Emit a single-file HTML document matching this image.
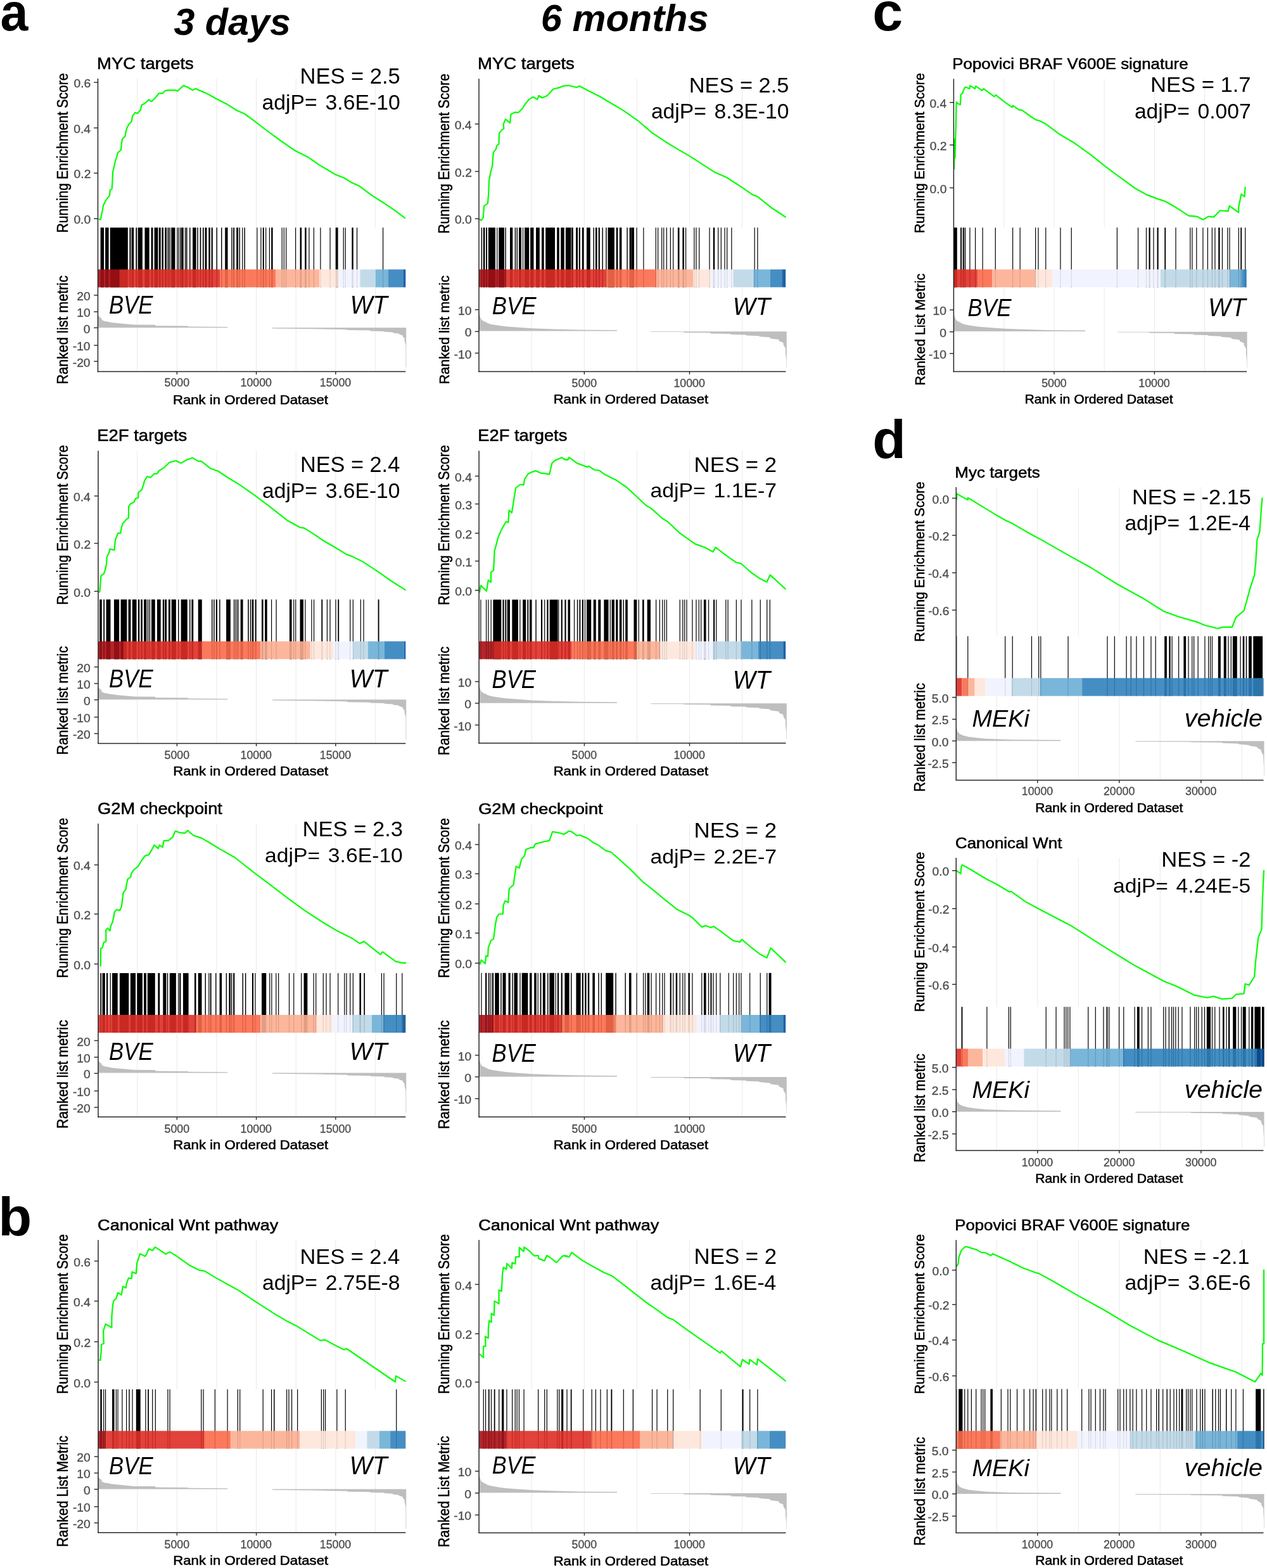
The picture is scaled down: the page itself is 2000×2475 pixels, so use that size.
<!DOCTYPE html>
<html><head><meta charset="utf-8"><title>GSEA figure</title>
<style>html,body{margin:0;padding:0;background:#fff;}svg{display:block;}text{font-family:"Liberation Sans", Arial, sans-serif;}</style>
</head><body>
<svg xmlns="http://www.w3.org/2000/svg" width="2000" height="2475" viewBox="0 0 2000 2475">
<rect width="2000" height="2475" fill="#fff"/>
<line x1="216.72" y1="124.00" x2="216.72" y2="359.20" stroke="#ebebeb" stroke-width="1.1" />
<line x1="216.72" y1="453.50" x2="216.72" y2="586.60" stroke="#ebebeb" stroke-width="1.1" />
<line x1="279.35" y1="124.00" x2="279.35" y2="359.20" stroke="#ebebeb" stroke-width="1.1" />
<line x1="279.35" y1="453.50" x2="279.35" y2="586.60" stroke="#ebebeb" stroke-width="1.1" />
<line x1="341.98" y1="124.00" x2="341.98" y2="359.20" stroke="#ebebeb" stroke-width="1.1" />
<line x1="341.98" y1="453.50" x2="341.98" y2="586.60" stroke="#ebebeb" stroke-width="1.1" />
<line x1="404.60" y1="124.00" x2="404.60" y2="359.20" stroke="#ebebeb" stroke-width="1.1" />
<line x1="404.60" y1="453.50" x2="404.60" y2="586.60" stroke="#ebebeb" stroke-width="1.1" />
<line x1="467.23" y1="124.00" x2="467.23" y2="359.20" stroke="#ebebeb" stroke-width="1.1" />
<line x1="467.23" y1="453.50" x2="467.23" y2="586.60" stroke="#ebebeb" stroke-width="1.1" />
<line x1="529.85" y1="124.00" x2="529.85" y2="359.20" stroke="#ebebeb" stroke-width="1.1" />
<line x1="529.85" y1="453.50" x2="529.85" y2="586.60" stroke="#ebebeb" stroke-width="1.1" />
<line x1="592.48" y1="124.00" x2="592.48" y2="359.20" stroke="#ebebeb" stroke-width="1.1" />
<line x1="592.48" y1="453.50" x2="592.48" y2="586.60" stroke="#ebebeb" stroke-width="1.1" />
<polygon points="154.50,517.30 154.50,497.50 156.50,499.50 160.50,503.00 160.50,505.10 165.00,507.10 172.60,508.30 175.00,508.90 187.00,510.30 212.00,512.60 245.00,512.80 245.30,514.30 297.00,514.60 297.00,515.50 359.20,515.90 359.20,517.30" fill="#bebebe"/>
<polygon points="430.00,517.30 430.00,518.40 496.00,519.30 540.00,520.10 548.10,520.30 548.10,521.10 584.20,521.60 584.20,522.50 606.80,523.00 606.80,523.80 620.30,524.50 620.30,525.50 629.70,526.50 629.70,527.50 635.80,529.50 635.80,531.20 638.50,534.00 638.50,537.30 640.50,545.00 640.50,579.80 641.20,579.80 641.20,517.30" fill="#bebebe"/>
<path d="M158.64 359.20H164.11V453.50H158.64ZM166.13 359.20H171.60V453.50H166.13ZM173.76 359.20H201.84V453.50H173.76ZM204.44 359.20H206.45V453.50H204.44ZM207.60 359.20H211.20V453.50H207.60ZM214.37 359.20H216.24V453.50H214.37ZM217.68 359.20H224.88V453.50H217.68ZM228.49 359.20H235.69V453.50H228.49ZM238.57 359.20H241.45V453.50H238.57ZM243.61 359.20H249.37V453.50H243.61ZM250.81 359.20H253.69V453.50H250.81ZM255.41 359.20H258.01V453.50H255.41ZM260.17 359.20H263.05V453.50H260.17ZM264.49 359.20H266.36V453.50H264.49ZM267.37 359.20H268.81V453.50H267.37ZM270.25 359.20H276.44V453.50H270.25ZM279.22 359.20H280.42V453.50H279.22ZM281.31 359.20H282.51V453.50H281.31ZM283.93 359.20H285.37V453.50H283.93ZM286.09 359.20H289.69V453.50H286.09ZM291.85 359.20H293.29V453.50H291.85ZM294.01 359.20H295.45V453.50H294.01ZM299.05 359.20H300.49V453.50H299.05ZM304.09 359.20H309.56V453.50H304.09ZM311.29 359.20H312.73V453.50H311.29ZM315.61 359.20H317.34V453.50H315.61ZM319.93 359.20H321.66V453.50H319.93ZM323.53 359.20H326.41V453.50H323.53ZM329.29 359.20H331.74V453.50H329.29ZM333.61 359.20H335.77V453.50H333.61ZM341.53 359.20H342.97V453.50H341.53ZM349.02 359.20H350.46V453.50H349.02ZM355.21 359.20H359.53V453.50H355.21ZM365.29 359.20H366.73V453.50H365.29ZM368.17 359.20H370.05V453.50H368.17ZM373.21 359.20H376.09V453.50H373.21ZM377.53 359.20H378.97V453.50H377.53ZM382.12 359.20H383.32V453.50H382.12ZM385.46 359.20H386.90V453.50H385.46ZM405.24 359.20H406.44V453.50H405.24ZM411.29 359.20H412.49V453.50H411.29ZM414.77 359.20H416.79V453.50H414.77ZM419.07 359.20H420.27V453.50H419.07ZM424.83 359.20H426.03V453.50H424.83ZM428.16 359.20H430.61V453.50H428.16ZM444.56 359.20H445.76V453.50H444.56ZM447.72 359.20H448.92V453.50H447.72ZM451.04 359.20H452.24V453.50H451.04ZM466.01 359.20H467.21V453.50H466.01ZM473.53 359.20H476.12V453.50H473.53ZM481.16 359.20H483.61V453.50H481.16ZM487.33 359.20H488.53V453.50H487.33ZM494.81 359.20H496.01V453.50H494.81ZM505.33 359.20H506.53V453.50H505.33ZM520.45 359.20H521.65V453.50H520.45ZM529.69 359.20H533.58V453.50H529.69ZM541.62 359.20H542.82V453.50H541.62ZM544.64 359.20H545.84V453.50H544.64ZM555.32 359.20H557.77V453.50H555.32ZM562.93 359.20H564.13V453.50H562.93ZM603.97 359.20H605.17V453.50H603.97Z" fill="#000"/>
<rect x="154.50" y="425.30" width="33.80" height="28.20" fill="#A50F15" fill-opacity="0.9"/>
<rect x="188.30" y="425.30" width="159.30" height="28.20" fill="#DE2D26" fill-opacity="0.9"/>
<rect x="347.60" y="425.30" width="87.90" height="28.20" fill="#FB6A4A" fill-opacity="0.9"/>
<rect x="435.50" y="425.30" width="68.50" height="28.20" fill="#FCAE91" fill-opacity="0.9"/>
<rect x="504.00" y="425.30" width="30.30" height="28.20" fill="#FEE5D9" fill-opacity="0.9"/>
<rect x="534.30" y="425.30" width="34.20" height="28.20" fill="#EFF3FF" fill-opacity="0.9"/>
<rect x="568.50" y="425.30" width="24.20" height="28.20" fill="#BDD7E7" fill-opacity="0.9"/>
<rect x="592.70" y="425.30" width="20.30" height="28.20" fill="#6BAED6" fill-opacity="0.9"/>
<rect x="613.00" y="425.30" width="23.30" height="28.20" fill="#3182BD" fill-opacity="0.9"/>
<rect x="636.30" y="425.30" width="4.00" height="28.20" fill="#08519C" fill-opacity="0.9"/>
<polyline points="155.76,345.37 158.64,346.81 161.52,333.13 162.96,324.49 167.28,315.85 173.04,308.65 173.76,300.01 176.64,298.57 177.36,287.05 178.08,271.21 180.24,262.57 181.68,255.37 184.56,246.73 186.00,240.97 191.04,236.65 191.76,226.57 193.20,219.37 197.52,215.05 198.96,206.41 200.40,202.09 203.28,196.32 207.60,192.00 209.04,183.36 213.36,177.60 216.96,179.04 222.00,173.28 223.44,166.08 228.49,163.20 234.97,157.44 239.29,160.32 245.05,154.56 250.81,147.36 256.57,147.36 260.89,143.04 265.21,142.32 276.73,142.32 280.33,143.76 283.93,140.16 289.69,135.12 295.45,137.28 304.09,142.32 308.41,139.87 315.61,143.04 324.25,146.64 330.01,149.52 341.53,156.00 357.37,163.92 373.21,174.00 386.18,179.76 400.00,189.84 418.72,204.25 443.20,222.25 466.24,238.09 486.41,248.17 505.13,261.13 529.61,275.53 544.01,281.29 555.53,288.49 567.05,293.53 587.21,308.65 604.49,319.45 624.65,333.13 639.78,344.65" fill="none" stroke="#00ff00" stroke-width="2.2" stroke-linejoin="round"/>
<line x1="154.50" y1="124.00" x2="154.50" y2="587.30" stroke="#262626" stroke-width="1.5" />
<line x1="153.80" y1="586.60" x2="640.30" y2="586.60" stroke="#262626" stroke-width="1.5" />
<line x1="148.20" y1="130.00" x2="154.50" y2="130.00" stroke="#262626" stroke-width="1.4" />
<line x1="148.20" y1="201.90" x2="154.50" y2="201.90" stroke="#262626" stroke-width="1.4" />
<line x1="148.20" y1="273.30" x2="154.50" y2="273.30" stroke="#262626" stroke-width="1.4" />
<line x1="148.20" y1="345.20" x2="154.50" y2="345.20" stroke="#262626" stroke-width="1.4" />
<line x1="148.20" y1="466.00" x2="154.50" y2="466.00" stroke="#262626" stroke-width="1.4" />
<line x1="148.20" y1="492.10" x2="154.50" y2="492.10" stroke="#262626" stroke-width="1.4" />
<line x1="148.20" y1="517.40" x2="154.50" y2="517.40" stroke="#262626" stroke-width="1.4" />
<line x1="148.20" y1="545.10" x2="154.50" y2="545.10" stroke="#262626" stroke-width="1.4" />
<line x1="148.20" y1="570.40" x2="154.50" y2="570.40" stroke="#262626" stroke-width="1.4" />
<line x1="279.35" y1="586.60" x2="279.35" y2="591.10" stroke="#262626" stroke-width="1.4" />
<line x1="404.60" y1="586.60" x2="404.60" y2="591.10" stroke="#262626" stroke-width="1.4" />
<line x1="529.85" y1="586.60" x2="529.85" y2="591.10" stroke="#262626" stroke-width="1.4" />
<line x1="839.35" y1="124.30" x2="839.35" y2="359.20" stroke="#ebebeb" stroke-width="1.1" />
<line x1="839.35" y1="453.40" x2="839.35" y2="586.50" stroke="#ebebeb" stroke-width="1.1" />
<line x1="922.40" y1="124.30" x2="922.40" y2="359.20" stroke="#ebebeb" stroke-width="1.1" />
<line x1="922.40" y1="453.40" x2="922.40" y2="586.50" stroke="#ebebeb" stroke-width="1.1" />
<line x1="1005.45" y1="124.30" x2="1005.45" y2="359.20" stroke="#ebebeb" stroke-width="1.1" />
<line x1="1005.45" y1="453.40" x2="1005.45" y2="586.50" stroke="#ebebeb" stroke-width="1.1" />
<line x1="1088.50" y1="124.30" x2="1088.50" y2="359.20" stroke="#ebebeb" stroke-width="1.1" />
<line x1="1088.50" y1="453.40" x2="1088.50" y2="586.50" stroke="#ebebeb" stroke-width="1.1" />
<line x1="1171.55" y1="124.30" x2="1171.55" y2="359.20" stroke="#ebebeb" stroke-width="1.1" />
<line x1="1171.55" y1="453.40" x2="1171.55" y2="586.50" stroke="#ebebeb" stroke-width="1.1" />
<polygon points="756.00,522.60 756.00,493.00 757.00,497.00 759.30,503.60 762.00,506.30 766.60,508.20 770.00,510.20 775.90,511.90 786.90,513.70 798.00,515.20 814.60,516.50 840.40,518.30 873.50,519.60 919.60,520.70 974.00,521.10 974.00,522.60" fill="#bebebe"/>
<polygon points="1027.40,523.20 1027.40,524.10 1079.20,524.10 1079.20,525.00 1121.60,525.20 1121.60,526.40 1153.50,526.90 1153.50,528.10 1177.70,528.50 1177.70,529.50 1198.50,530.20 1198.50,531.20 1215.70,532.50 1215.70,534.20 1229.60,536.00 1229.60,538.20 1236.50,541.00 1236.50,543.70 1240.00,550.00 1240.00,557.50 1241.30,570.00 1241.30,580.00 1241.80,580.00 1241.80,523.20" fill="#bebebe"/>
<path d="M759.64 359.20H761.08V453.40H759.64ZM762.81 359.20H765.40V453.40H762.81ZM767.13 359.20H769.00V453.40H767.13ZM770.87 359.20H781.96V453.40H770.87ZM784.10 359.20H785.30V453.40H784.10ZM787.29 359.20H795.93V453.40H787.29ZM797.37 359.20H798.81V453.40H797.37ZM805.00 359.20H809.32V453.40H805.00ZM812.64 359.20H814.08V453.40H812.64ZM815.52 359.20H816.96V453.40H815.52ZM818.97 359.20H823.00V453.40H818.97ZM824.92 359.20H826.12V453.40H824.92ZM828.04 359.20H835.25V453.40H828.04ZM837.12 359.20H842.45V453.40H837.12ZM846.05 359.20H851.81V453.40H846.05ZM854.97 359.20H858.72V453.40H854.97ZM861.17 359.20H876.00V453.40H861.17ZM879.17 359.20H882.77V453.40H879.17ZM885.22 359.20H890.69V453.40H885.22ZM892.85 359.20H901.49V453.40H892.85ZM902.21 359.20H904.80V453.40H902.21ZM909.12 359.20H912.00V453.40H909.12ZM913.73 359.20H915.89V453.40H913.73ZM918.77 359.20H921.65V453.40H918.77ZM925.97 359.20H931.73V453.40H925.97ZM936.48 359.20H937.92V453.40H936.48ZM939.94 359.20H942.53V453.40H939.94ZM944.69 359.20H946.85V453.40H944.69ZM950.45 359.20H951.89V453.40H950.45ZM956.21 359.20H957.65V453.40H956.21ZM959.53 359.20H969.89V453.40H959.53ZM972.77 359.20H975.37V453.40H972.77ZM977.81 359.20H981.41V453.40H977.81ZM989.34 359.20H990.78V453.40H989.34ZM993.66 359.20H995.10V453.40H993.66ZM996.54 359.20H997.98V453.40H996.54ZM999.42 359.20H1001.00V453.40H999.42ZM995.12 359.20H996.32V453.40H995.12ZM997.59 359.20H999.61V453.40H997.59ZM1004.48 359.20H1005.68V453.40H1004.48ZM1015.28 359.20H1016.48V453.40H1015.28ZM1034.72 359.20H1035.92V453.40H1034.72ZM1038.03 359.20H1039.23V453.40H1038.03ZM1044.08 359.20H1045.28V453.40H1044.08ZM1047.11 359.20H1048.31V453.40H1047.11ZM1051.72 359.20H1052.92V453.40H1051.72ZM1057.76 359.20H1058.96V453.40H1057.76ZM1062.08 359.20H1063.28V453.40H1062.08ZM1069.88 359.20H1072.48V453.40H1069.88ZM1077.37 359.20H1079.97V453.40H1077.37ZM1081.96 359.20H1083.16V453.40H1081.96ZM1095.21 359.20H1096.41V453.40H1095.21ZM1098.37 359.20H1099.57V453.40H1098.37ZM1103.13 359.20H1104.33V453.40H1103.13ZM1119.40 359.20H1120.60V453.40H1119.40ZM1125.76 359.20H1128.21V453.40H1125.76ZM1133.08 359.20H1134.28V453.40H1133.08ZM1137.69 359.20H1138.89V453.40H1137.69ZM1143.45 359.20H1144.65V453.40H1143.45ZM1147.05 359.20H1148.25V453.40H1147.05ZM1154.25 359.20H1155.45V453.40H1154.25ZM1190.54 359.20H1191.74V453.40H1190.54ZM1195.29 359.20H1196.49V453.40H1195.29Z" fill="#000"/>
<rect x="756.00" y="425.30" width="42.80" height="28.10" fill="#A50F15" fill-opacity="0.9"/>
<rect x="798.80" y="425.30" width="157.70" height="28.10" fill="#DE2D26" fill-opacity="0.9"/>
<rect x="956.50" y="425.30" width="79.70" height="28.10" fill="#FB6A4A" fill-opacity="0.9"/>
<rect x="1036.20" y="425.30" width="57.90" height="28.10" fill="#FCAE91" fill-opacity="0.9"/>
<rect x="1094.10" y="425.30" width="27.50" height="28.10" fill="#FEE5D9" fill-opacity="0.9"/>
<rect x="1121.60" y="425.30" width="35.90" height="28.10" fill="#EFF3FF" fill-opacity="0.9"/>
<rect x="1157.50" y="425.30" width="31.90" height="28.10" fill="#BDD7E7" fill-opacity="0.9"/>
<rect x="1189.40" y="425.30" width="26.60" height="28.10" fill="#6BAED6" fill-opacity="0.9"/>
<rect x="1216.00" y="425.30" width="18.30" height="28.10" fill="#3182BD" fill-opacity="0.9"/>
<rect x="1234.30" y="425.30" width="5.90" height="28.10" fill="#08519C" fill-opacity="0.9"/>
<polyline points="756.90,345.90 759.51,347.86 762.77,343.30 764.07,325.05 769.94,321.14 771.24,305.50 771.89,285.94 774.50,271.61 777.11,262.48 778.02,249.45 779.06,240.32 782.97,235.11 784.28,229.90 787.53,227.29 787.92,210.34 792.10,205.13 795.35,203.18 794.70,196.01 797.96,188.19 805.13,194.05 806.43,180.36 812.95,177.11 818.16,177.76 824.68,171.24 828.59,164.72 835.11,156.90 841.63,152.99 848.14,156.90 850.75,151.04 855.96,154.30 850.00,151.11 855.76,154.56 863.82,151.11 873.04,140.74 882.26,138.43 889.17,135.67 898.39,134.98 909.91,137.97 914.52,135.67 928.34,143.04 946.77,152.26 962.90,161.94 983.64,174.15 1006.68,190.28 1029.72,209.86 1050.46,223.69 1071.20,236.36 1087.33,245.58 1103.46,255.94 1126.50,270.92 1147.24,280.14 1154.15,284.75 1170.28,295.12 1188.71,307.79 1195.62,310.09 1218.66,328.53 1240.55,343.04" fill="none" stroke="#00ff00" stroke-width="2.2" stroke-linejoin="round"/>
<line x1="756.00" y1="124.30" x2="756.00" y2="587.20" stroke="#262626" stroke-width="1.5" />
<line x1="755.30" y1="586.50" x2="1240.50" y2="586.50" stroke="#262626" stroke-width="1.5" />
<line x1="749.70" y1="195.70" x2="756.00" y2="195.70" stroke="#262626" stroke-width="1.4" />
<line x1="749.70" y1="270.60" x2="756.00" y2="270.60" stroke="#262626" stroke-width="1.4" />
<line x1="749.70" y1="345.30" x2="756.00" y2="345.30" stroke="#262626" stroke-width="1.4" />
<line x1="749.70" y1="488.80" x2="756.00" y2="488.80" stroke="#262626" stroke-width="1.4" />
<line x1="749.70" y1="523.30" x2="756.00" y2="523.30" stroke="#262626" stroke-width="1.4" />
<line x1="749.70" y1="557.40" x2="756.00" y2="557.40" stroke="#262626" stroke-width="1.4" />
<line x1="922.40" y1="586.50" x2="922.40" y2="591.00" stroke="#262626" stroke-width="1.4" />
<line x1="1088.50" y1="586.50" x2="1088.50" y2="591.00" stroke="#262626" stroke-width="1.4" />
<line x1="216.72" y1="711.40" x2="216.72" y2="946.30" stroke="#ebebeb" stroke-width="1.1" />
<line x1="216.72" y1="1040.40" x2="216.72" y2="1173.40" stroke="#ebebeb" stroke-width="1.1" />
<line x1="279.35" y1="711.40" x2="279.35" y2="946.30" stroke="#ebebeb" stroke-width="1.1" />
<line x1="279.35" y1="1040.40" x2="279.35" y2="1173.40" stroke="#ebebeb" stroke-width="1.1" />
<line x1="341.98" y1="711.40" x2="341.98" y2="946.30" stroke="#ebebeb" stroke-width="1.1" />
<line x1="341.98" y1="1040.40" x2="341.98" y2="1173.40" stroke="#ebebeb" stroke-width="1.1" />
<line x1="404.60" y1="711.40" x2="404.60" y2="946.30" stroke="#ebebeb" stroke-width="1.1" />
<line x1="404.60" y1="1040.40" x2="404.60" y2="1173.40" stroke="#ebebeb" stroke-width="1.1" />
<line x1="467.23" y1="711.40" x2="467.23" y2="946.30" stroke="#ebebeb" stroke-width="1.1" />
<line x1="467.23" y1="1040.40" x2="467.23" y2="1173.40" stroke="#ebebeb" stroke-width="1.1" />
<line x1="529.85" y1="711.40" x2="529.85" y2="946.30" stroke="#ebebeb" stroke-width="1.1" />
<line x1="529.85" y1="1040.40" x2="529.85" y2="1173.40" stroke="#ebebeb" stroke-width="1.1" />
<line x1="592.48" y1="711.40" x2="592.48" y2="946.30" stroke="#ebebeb" stroke-width="1.1" />
<line x1="592.48" y1="1040.40" x2="592.48" y2="1173.40" stroke="#ebebeb" stroke-width="1.1" />
<polygon points="154.50,1104.30 154.50,1084.35 156.50,1086.36 160.50,1089.89 160.50,1092.01 165.00,1094.02 172.60,1095.23 175.00,1095.84 187.00,1097.25 212.00,1099.56 245.00,1099.77 245.30,1101.28 297.00,1101.58 297.00,1102.49 359.20,1102.89 359.20,1104.30" fill="#bebebe"/>
<polygon points="430.00,1104.30 430.00,1105.41 496.00,1106.32 540.00,1107.12 548.10,1107.32 548.10,1108.13 584.20,1108.63 584.20,1109.54 606.80,1110.04 606.80,1110.85 620.30,1111.56 620.30,1112.56 629.70,1113.57 629.70,1114.58 635.80,1116.59 635.80,1118.31 638.50,1121.13 638.50,1124.45 640.50,1132.21 640.50,1167.28 641.20,1167.28 641.20,1104.30" fill="#bebebe"/>
<path d="M157.20 946.30H160.80V1040.40H157.20ZM163.25 946.30H165.12V1040.40H163.25ZM167.57 946.30H174.48V1040.40H167.57ZM179.95 946.30H188.16V1040.40H179.95ZM190.61 946.30H200.40V1040.40H190.61ZM202.56 946.30H206.45V1040.40H202.56ZM208.76 946.30H215.52V1040.40H208.76ZM217.97 946.30H220.28V1040.40H217.97ZM222.29 946.30H224.88V1040.40H222.29ZM227.04 946.30H231.37V1040.40H227.04ZM232.81 946.30H234.25V1040.40H232.81ZM235.69 946.30H237.13V1040.40H235.69ZM239.00 946.30H244.76V1040.40H239.00ZM247.93 946.30H253.69V1040.40H247.93ZM256.85 946.30H259.16V1040.40H256.85ZM260.17 946.30H263.05V1040.40H260.17ZM265.93 946.30H268.81V1040.40H265.93ZM270.68 946.30H277.88V1040.40H270.68ZM281.05 946.30H282.49V1040.40H281.05ZM285.66 946.30H295.74V1040.40H285.66ZM299.05 946.30H300.49V1040.40H299.05ZM302.36 946.30H305.24V1040.40H302.36ZM312.73 946.30H318.78V1040.40H312.73ZM334.04 946.30H335.48V1040.40H334.04ZM337.21 946.30H338.65V1040.40H337.21ZM340.81 946.30H342.97V1040.40H340.81ZM346.14 946.30H347.58V1040.40H346.14ZM357.09 946.30H363.85V1040.40H357.09ZM368.89 946.30H370.33V1040.40H368.89ZM371.77 946.30H373.21V1040.40H371.77ZM374.65 946.30H376.38V1040.40H374.65ZM379.69 946.30H383.58V1040.40H379.69ZM391.22 946.30H392.66V1040.40H391.22ZM394.82 946.30H396.26V1040.40H394.82ZM397.70 946.30H399.14V1040.40H397.70ZM391.56 946.30H392.76V1040.40H391.56ZM394.87 946.30H396.07V1040.40H394.87ZM399.19 946.30H400.39V1040.40H399.19ZM402.67 946.30H404.69V1040.40H402.67ZM413.04 946.30H415.63V1040.40H413.04ZM418.08 946.30H421.68V1040.40H418.08ZM427.99 946.30H429.19V1040.40H427.99ZM435.48 946.30H436.68V1040.40H435.48ZM456.96 946.30H460.56V1040.40H456.96ZM463.13 946.30H464.33V1040.40H463.13ZM466.16 946.30H467.36V1040.40H466.16ZM473.53 946.30H479.00V1040.40H473.53ZM481.28 946.30H482.48V1040.40H481.28ZM491.36 946.30H492.56V1040.40H491.36ZM494.96 946.30H496.16V1040.40H494.96ZM507.37 946.30H509.24V1040.40H507.37ZM515.84 946.30H517.04V1040.40H515.84ZM520.45 946.30H521.65V1040.40H520.45ZM529.38 946.30H530.58V1040.40H529.38ZM533.29 946.30H535.16V1040.40H533.29ZM552.13 946.30H553.33V1040.40H552.13ZM556.74 946.30H557.94V1040.40H556.74ZM568.69 946.30H569.89V1040.40H568.69ZM573.44 946.30H574.64V1040.40H573.44ZM596.65 946.30H598.53V1040.40H596.65Z" fill="#000"/>
<rect x="155.00" y="1012.30" width="39.40" height="28.10" fill="#A50F15" fill-opacity="0.9"/>
<rect x="194.40" y="1012.30" width="124.10" height="28.10" fill="#DE2D26" fill-opacity="0.9"/>
<rect x="318.50" y="1012.30" width="92.80" height="28.10" fill="#FB6A4A" fill-opacity="0.9"/>
<rect x="411.30" y="1012.30" width="78.50" height="28.10" fill="#FCAE91" fill-opacity="0.9"/>
<rect x="489.80" y="1012.30" width="36.30" height="28.10" fill="#FEE5D9" fill-opacity="0.9"/>
<rect x="526.10" y="1012.30" width="30.90" height="28.10" fill="#EFF3FF" fill-opacity="0.9"/>
<rect x="557.00" y="1012.30" width="23.80" height="28.10" fill="#BDD7E7" fill-opacity="0.9"/>
<rect x="580.80" y="1012.30" width="25.90" height="28.10" fill="#6BAED6" fill-opacity="0.9"/>
<rect x="606.70" y="1012.30" width="31.00" height="28.10" fill="#3182BD" fill-opacity="0.9"/>
<rect x="637.70" y="1012.30" width="2.60" height="28.10" fill="#08519C" fill-opacity="0.9"/>
<polyline points="156.11,935.10 157.50,933.70 158.90,914.15 159.60,908.57 163.79,905.78 165.88,900.19 167.98,890.41 168.67,879.24 172.17,872.26 173.56,866.68 180.54,868.07 181.94,852.71 186.13,841.54 190.32,841.54 191.72,833.16 193.81,826.18 200.09,819.20 202.89,817.80 203.17,799.65 205.68,795.46 211.27,792.66 214.06,787.08 218.25,785.68 218.25,777.30 223.83,773.11 226.63,764.73 228.02,759.15 232.21,752.17 237.80,753.56 243.39,747.98 247.57,747.98 251.76,742.39 250.00,743.78 259.22,738.02 267.28,729.95 277.65,727.19 285.71,731.11 294.93,725.81 304.15,722.58 312.21,727.65 317.97,728.11 331.80,739.17 344.47,743.78 358.29,753.00 379.03,765.67 402.07,781.80 425.12,799.08 452.76,820.97 473.50,832.49 480.41,833.64 494.24,842.40 510.37,853.23 528.80,864.06 547.24,875.12 556.45,878.57 572.58,886.64 595.62,901.61 618.66,917.74 640.55,931.57" fill="none" stroke="#00ff00" stroke-width="2.2" stroke-linejoin="round"/>
<line x1="155.00" y1="711.40" x2="155.00" y2="1174.10" stroke="#262626" stroke-width="1.5" />
<line x1="154.30" y1="1173.40" x2="640.30" y2="1173.40" stroke="#262626" stroke-width="1.5" />
<line x1="148.70" y1="782.90" x2="155.00" y2="782.90" stroke="#262626" stroke-width="1.4" />
<line x1="148.70" y1="857.60" x2="155.00" y2="857.60" stroke="#262626" stroke-width="1.4" />
<line x1="148.70" y1="933.40" x2="155.00" y2="933.40" stroke="#262626" stroke-width="1.4" />
<line x1="148.70" y1="1052.80" x2="155.00" y2="1052.80" stroke="#262626" stroke-width="1.4" />
<line x1="148.70" y1="1078.90" x2="155.00" y2="1078.90" stroke="#262626" stroke-width="1.4" />
<line x1="148.70" y1="1104.60" x2="155.00" y2="1104.60" stroke="#262626" stroke-width="1.4" />
<line x1="148.70" y1="1132.00" x2="155.00" y2="1132.00" stroke="#262626" stroke-width="1.4" />
<line x1="148.70" y1="1157.90" x2="155.00" y2="1157.90" stroke="#262626" stroke-width="1.4" />
<line x1="279.35" y1="1173.40" x2="279.35" y2="1177.90" stroke="#262626" stroke-width="1.4" />
<line x1="404.60" y1="1173.40" x2="404.60" y2="1177.90" stroke="#262626" stroke-width="1.4" />
<line x1="529.85" y1="1173.40" x2="529.85" y2="1177.90" stroke="#262626" stroke-width="1.4" />
<line x1="839.35" y1="711.40" x2="839.35" y2="946.40" stroke="#ebebeb" stroke-width="1.1" />
<line x1="839.35" y1="1040.40" x2="839.35" y2="1173.10" stroke="#ebebeb" stroke-width="1.1" />
<line x1="922.40" y1="711.40" x2="922.40" y2="946.40" stroke="#ebebeb" stroke-width="1.1" />
<line x1="922.40" y1="1040.40" x2="922.40" y2="1173.10" stroke="#ebebeb" stroke-width="1.1" />
<line x1="1005.45" y1="711.40" x2="1005.45" y2="946.40" stroke="#ebebeb" stroke-width="1.1" />
<line x1="1005.45" y1="1040.40" x2="1005.45" y2="1173.10" stroke="#ebebeb" stroke-width="1.1" />
<line x1="1088.50" y1="711.40" x2="1088.50" y2="946.40" stroke="#ebebeb" stroke-width="1.1" />
<line x1="1088.50" y1="1040.40" x2="1088.50" y2="1173.10" stroke="#ebebeb" stroke-width="1.1" />
<line x1="1171.55" y1="711.40" x2="1171.55" y2="946.40" stroke="#ebebeb" stroke-width="1.1" />
<line x1="1171.55" y1="1040.40" x2="1171.55" y2="1173.10" stroke="#ebebeb" stroke-width="1.1" />
<polygon points="756.00,1109.70 756.00,1080.10 757.00,1084.10 759.30,1090.70 762.00,1093.40 766.60,1095.30 770.00,1097.30 775.90,1099.00 786.90,1100.80 798.00,1102.30 814.60,1103.60 840.40,1105.40 873.50,1106.70 919.60,1107.80 974.00,1108.20 974.00,1109.70" fill="#bebebe"/>
<polygon points="1027.40,1110.30 1027.40,1111.20 1079.20,1111.20 1079.20,1112.10 1121.60,1112.30 1121.60,1113.50 1153.50,1114.00 1153.50,1115.20 1177.70,1115.60 1177.70,1116.60 1198.50,1117.30 1198.50,1118.30 1215.70,1119.60 1215.70,1121.30 1229.60,1123.10 1229.60,1125.30 1236.50,1128.10 1236.50,1130.80 1240.00,1137.10 1240.00,1144.60 1241.30,1157.10 1241.30,1167.10 1241.80,1167.10 1241.80,1110.30" fill="#bebebe"/>
<path d="M758.32 946.40H759.52V1040.40H758.32ZM766.96 946.40H768.16V1040.40H766.96ZM770.27 946.40H771.47V1040.40H770.27ZM774.59 946.40H775.79V1040.40H774.59ZM778.36 946.40H791.32V1040.40H778.36ZM793.48 946.40H795.64V1040.40H793.48ZM797.37 946.40H799.24V1040.40H797.37ZM800.68 946.40H805.00V1040.40H800.68ZM808.32 946.40H817.96V1040.40H808.32ZM820.24 946.40H821.44V1040.40H820.24ZM825.16 946.40H830.21V1040.40H825.16ZM832.37 946.40H834.24V1040.40H832.37ZM835.97 946.40H839.57V1040.40H835.97ZM845.33 946.40H846.77V1040.40H845.33ZM853.97 946.40H856.13V1040.40H853.97ZM859.13 946.40H860.33V1040.40H859.13ZM863.33 946.40H865.49V1040.40H863.33ZM867.65 946.40H880.61V1040.40H867.65ZM881.23 946.40H882.43V1040.40H881.23ZM885.65 946.40H887.81V1040.40H885.65ZM891.41 946.40H893.57V1040.40H891.41ZM896.45 946.40H900.05V1040.40H896.45ZM905.93 946.40H907.13V1040.40H905.93ZM910.85 946.40H912.29V1040.40H910.85ZM914.45 946.40H916.32V1040.40H914.45ZM918.77 946.40H920.93V1040.40H918.77ZM922.85 946.40H924.05V1040.40H922.85ZM925.97 946.40H933.17V1040.40H925.97ZM936.77 946.40H940.80V1040.40H936.77ZM944.26 946.40H948.29V1040.40H944.26ZM953.33 946.40H960.53V1040.40H953.33ZM962.67 946.40H963.87V1040.40H962.67ZM965.57 946.40H969.89V1040.40H965.57ZM972.05 946.40H975.37V1040.40H972.05ZM977.81 946.40H981.41V1040.40H977.81ZM983.57 946.40H985.01V1040.40H983.57ZM987.18 946.40H990.78V1040.40H987.18ZM1000.47 946.40H1005.37V1040.40H1000.47ZM1007.65 946.40H1008.85V1040.40H1007.65ZM1014.01 946.40H1016.60V1040.40H1014.01ZM1021.64 946.40H1026.97V1040.40H1021.64ZM1035.01 946.40H1036.21V1040.40H1035.01ZM1040.77 946.40H1041.97V1040.40H1040.77ZM1045.09 946.40H1046.29V1040.40H1045.09ZM1048.40 946.40H1049.60V1040.40H1048.40ZM1051.72 946.40H1052.92V1040.40H1051.72ZM1072.60 946.40H1073.80V1040.40H1072.60ZM1077.21 946.40H1078.41V1040.40H1077.21ZM1080.09 946.40H1081.29V1040.40H1080.09ZM1083.40 946.40H1084.60V1040.40H1083.40ZM1092.33 946.40H1093.53V1040.40H1092.33ZM1098.37 946.40H1099.57V1040.40H1098.37ZM1102.69 946.40H1103.89V1040.40H1102.69ZM1106.01 946.40H1107.21V1040.40H1106.01ZM1110.93 946.40H1114.53V1040.40H1110.93ZM1117.96 946.40H1119.16V1040.40H1117.96ZM1126.05 946.40H1128.21V1040.40H1126.05ZM1130.20 946.40H1131.40V1040.40H1130.20ZM1145.18 946.40H1146.38V1040.40H1145.18ZM1148.49 946.40H1149.69V1040.40H1148.49ZM1161.74 946.40H1162.94V1040.40H1161.74ZM1169.37 946.40H1170.57V1040.40H1169.37ZM1186.22 946.40H1187.42V1040.40H1186.22ZM1199.61 946.40H1200.81V1040.40H1199.61ZM1210.13 946.40H1211.33V1040.40H1210.13ZM1214.73 946.40H1215.93V1040.40H1214.73Z" fill="#000"/>
<rect x="756.10" y="1012.30" width="23.00" height="28.10" fill="#A50F15" fill-opacity="0.9"/>
<rect x="779.10" y="1012.30" width="123.60" height="28.10" fill="#DE2D26" fill-opacity="0.9"/>
<rect x="902.70" y="1012.30" width="101.90" height="28.10" fill="#FB6A4A" fill-opacity="0.9"/>
<rect x="1004.60" y="1012.30" width="36.80" height="28.10" fill="#FCAE91" fill-opacity="0.9"/>
<rect x="1041.40" y="1012.30" width="55.80" height="28.10" fill="#FEE5D9" fill-opacity="0.9"/>
<rect x="1097.20" y="1012.30" width="28.10" height="28.10" fill="#EFF3FF" fill-opacity="0.9"/>
<rect x="1125.30" y="1012.30" width="45.40" height="28.10" fill="#BDD7E7" fill-opacity="0.9"/>
<rect x="1170.70" y="1012.30" width="25.90" height="28.10" fill="#6BAED6" fill-opacity="0.9"/>
<rect x="1196.60" y="1012.30" width="39.60" height="28.10" fill="#3182BD" fill-opacity="0.9"/>
<rect x="1236.20" y="1012.30" width="4.00" height="28.10" fill="#08519C" fill-opacity="0.9"/>
<polyline points="756.83,935.18 758.92,924.00 768.00,933.08 770.79,915.62 774.99,919.11 774.99,903.05 779.18,900.26 780.57,869.53 783.37,859.75 786.16,848.57 790.35,838.80 793.14,833.21 798.73,823.43 802.22,824.83 803.62,805.27 807.81,809.46 809.91,796.89 812.00,782.92 814.10,770.35 821.08,764.76 826.67,765.46 828.07,756.38 833.65,748.00 839.24,745.21 845.53,743.11 853.21,746.60 860.19,747.30 867.18,748.70 871.37,731.24 875.56,727.05 886.73,722.16 892.32,725.65 890.00,724.89 896.22,725.92 898.30,721.78 910.74,731.11 927.33,737.33 929.40,735.67 937.70,741.48 945.99,742.51 954.29,748.73 972.95,758.07 989.54,769.47 1020.65,798.51 1026.87,801.62 1045.54,818.21 1053.83,823.39 1072.50,841.02 1082.87,848.28 1097.38,858.65 1111.90,863.83 1125.38,871.09 1129.53,863.83 1147.15,877.31 1161.67,887.68 1169.97,889.76 1186.56,904.27 1200.04,913.60 1210.41,918.79 1215.59,907.38 1240.48,930.19" fill="none" stroke="#00ff00" stroke-width="2.2" stroke-linejoin="round"/>
<line x1="756.10" y1="711.40" x2="756.10" y2="1173.80" stroke="#262626" stroke-width="1.5" />
<line x1="755.40" y1="1173.10" x2="1240.50" y2="1173.10" stroke="#262626" stroke-width="1.5" />
<line x1="749.80" y1="751.50" x2="756.10" y2="751.50" stroke="#262626" stroke-width="1.4" />
<line x1="749.80" y1="795.50" x2="756.10" y2="795.50" stroke="#262626" stroke-width="1.4" />
<line x1="749.80" y1="841.60" x2="756.10" y2="841.60" stroke="#262626" stroke-width="1.4" />
<line x1="749.80" y1="885.60" x2="756.10" y2="885.60" stroke="#262626" stroke-width="1.4" />
<line x1="749.80" y1="931.70" x2="756.10" y2="931.70" stroke="#262626" stroke-width="1.4" />
<line x1="749.80" y1="1075.80" x2="756.10" y2="1075.80" stroke="#262626" stroke-width="1.4" />
<line x1="749.80" y1="1110.00" x2="756.10" y2="1110.00" stroke="#262626" stroke-width="1.4" />
<line x1="749.80" y1="1144.40" x2="756.10" y2="1144.40" stroke="#262626" stroke-width="1.4" />
<line x1="922.40" y1="1173.10" x2="922.40" y2="1177.60" stroke="#262626" stroke-width="1.4" />
<line x1="1088.50" y1="1173.10" x2="1088.50" y2="1177.60" stroke="#262626" stroke-width="1.4" />
<line x1="216.72" y1="1300.00" x2="216.72" y2="1536.00" stroke="#ebebeb" stroke-width="1.1" />
<line x1="216.72" y1="1630.10" x2="216.72" y2="1763.10" stroke="#ebebeb" stroke-width="1.1" />
<line x1="279.35" y1="1300.00" x2="279.35" y2="1536.00" stroke="#ebebeb" stroke-width="1.1" />
<line x1="279.35" y1="1630.10" x2="279.35" y2="1763.10" stroke="#ebebeb" stroke-width="1.1" />
<line x1="341.98" y1="1300.00" x2="341.98" y2="1536.00" stroke="#ebebeb" stroke-width="1.1" />
<line x1="341.98" y1="1630.10" x2="341.98" y2="1763.10" stroke="#ebebeb" stroke-width="1.1" />
<line x1="404.60" y1="1300.00" x2="404.60" y2="1536.00" stroke="#ebebeb" stroke-width="1.1" />
<line x1="404.60" y1="1630.10" x2="404.60" y2="1763.10" stroke="#ebebeb" stroke-width="1.1" />
<line x1="467.23" y1="1300.00" x2="467.23" y2="1536.00" stroke="#ebebeb" stroke-width="1.1" />
<line x1="467.23" y1="1630.10" x2="467.23" y2="1763.10" stroke="#ebebeb" stroke-width="1.1" />
<line x1="529.85" y1="1300.00" x2="529.85" y2="1536.00" stroke="#ebebeb" stroke-width="1.1" />
<line x1="529.85" y1="1630.10" x2="529.85" y2="1763.10" stroke="#ebebeb" stroke-width="1.1" />
<line x1="592.48" y1="1300.00" x2="592.48" y2="1536.00" stroke="#ebebeb" stroke-width="1.1" />
<line x1="592.48" y1="1630.10" x2="592.48" y2="1763.10" stroke="#ebebeb" stroke-width="1.1" />
<polygon points="154.50,1693.60 154.50,1673.65 156.50,1675.66 160.50,1679.19 160.50,1681.31 165.00,1683.32 172.60,1684.53 175.00,1685.14 187.00,1686.55 212.00,1688.86 245.00,1689.07 245.30,1690.58 297.00,1690.88 297.00,1691.79 359.20,1692.19 359.20,1693.60" fill="#bebebe"/>
<polygon points="430.00,1693.60 430.00,1694.71 496.00,1695.62 540.00,1696.42 548.10,1696.62 548.10,1697.43 584.20,1697.93 584.20,1698.84 606.80,1699.34 606.80,1700.15 620.30,1700.86 620.30,1701.86 629.70,1702.87 629.70,1703.88 635.80,1705.89 635.80,1707.61 638.50,1710.43 638.50,1713.75 640.50,1721.51 640.50,1756.58 641.20,1756.58 641.20,1693.60" fill="#bebebe"/>
<path d="M158.35 1536.00H160.08V1630.10H158.35ZM161.52 1536.00H165.84V1630.10H161.52ZM168.00 1536.00H170.16V1630.10H168.00ZM173.67 1536.00H174.87V1630.10H173.67ZM177.07 1536.00H185.71V1630.10H177.07ZM188.88 1536.00H203.28V1630.10H188.88ZM205.88 1536.00H214.08V1630.10H205.88ZM216.24 1536.00H224.88V1630.10H216.24ZM227.04 1536.00H230.93V1630.10H227.04ZM232.81 1536.00H244.76V1630.10H232.81ZM249.37 1536.00H252.25V1630.10H249.37ZM257.29 1536.00H262.33V1630.10H257.29ZM263.77 1536.00H265.21V1630.10H263.77ZM267.80 1536.00H277.88V1630.10H267.80ZM281.02 1536.00H282.22V1630.10H281.02ZM283.21 1536.00H285.37V1630.10H283.21ZM288.97 1536.00H297.61V1630.10H288.97ZM306.97 1536.00H309.56V1630.10H306.97ZM312.73 1536.00H318.49V1630.10H312.73ZM323.53 1536.00H324.97V1630.10H323.53ZM329.20 1536.00H330.40V1630.10H329.20ZM331.74 1536.00H333.61V1630.10H331.74ZM340.09 1536.00H341.53V1630.10H340.09ZM346.57 1536.00H350.17V1630.10H346.57ZM356.65 1536.00H358.09V1630.10H356.65ZM361.41 1536.00H363.85V1630.10H361.41ZM364.86 1536.00H366.30V1630.10H364.86ZM368.17 1536.00H370.33V1630.10H368.17ZM382.57 1536.00H384.01V1630.10H382.57ZM386.90 1536.00H388.34V1630.10H386.90ZM398.42 1536.00H400.00V1630.10H398.42ZM397.92 1536.00H400.08V1630.10H397.92ZM402.36 1536.00H403.56V1630.10H402.36ZM413.04 1536.00H420.24V1630.10H413.04ZM425.11 1536.00H426.31V1630.10H425.11ZM428.28 1536.00H429.48V1630.10H428.28ZM435.19 1536.00H436.39V1630.10H435.19ZM439.08 1536.00H440.28V1630.10H439.08ZM455.93 1536.00H457.13V1630.10H455.93ZM463.13 1536.00H464.33V1630.10H463.13ZM475.09 1536.00H476.29V1630.10H475.09ZM479.57 1536.00H485.33V1630.10H479.57ZM494.53 1536.00H495.73V1630.10H494.53ZM498.13 1536.00H499.33V1630.10H498.13ZM509.65 1536.00H510.85V1630.10H509.65ZM514.40 1536.00H515.60V1630.10H514.40ZM520.45 1536.00H521.65V1630.10H520.45ZM533.12 1536.00H534.32V1630.10H533.12ZM543.20 1536.00H544.40V1630.10H543.20ZM546.37 1536.00H547.57V1630.10H546.37ZM552.13 1536.00H553.33V1630.10H552.13ZM556.74 1536.00H557.94V1630.10H556.74ZM567.42 1536.00H570.01V1630.10H567.42ZM574.33 1536.00H576.06V1630.10H574.33ZM601.81 1536.00H603.01V1630.10H601.81ZM605.41 1536.00H606.61V1630.10H605.41ZM625.14 1536.00H626.34V1630.10H625.14ZM634.22 1536.00H635.42V1630.10H634.22Z" fill="#000"/>
<rect x="155.00" y="1602.00" width="154.60" height="28.10" fill="#DE2D26" fill-opacity="0.9"/>
<rect x="309.60" y="1602.00" width="101.70" height="28.10" fill="#FB6A4A" fill-opacity="0.9"/>
<rect x="411.30" y="1602.00" width="88.10" height="28.10" fill="#FCAE91" fill-opacity="0.9"/>
<rect x="499.40" y="1602.00" width="25.20" height="28.10" fill="#FEE5D9" fill-opacity="0.9"/>
<rect x="524.60" y="1602.00" width="31.70" height="28.10" fill="#EFF3FF" fill-opacity="0.9"/>
<rect x="556.30" y="1602.00" width="30.70" height="28.10" fill="#BDD7E7" fill-opacity="0.9"/>
<rect x="587.00" y="1602.00" width="18.30" height="28.10" fill="#6BAED6" fill-opacity="0.9"/>
<rect x="605.30" y="1602.00" width="30.20" height="28.10" fill="#3182BD" fill-opacity="0.9"/>
<rect x="635.50" y="1602.00" width="4.80" height="28.10" fill="#08519C" fill-opacity="0.9"/>
<polyline points="157.51,1523.74 158.91,1524.44 158.91,1497.21 161.70,1495.81 163.80,1487.43 167.29,1486.03 167.29,1467.88 170.08,1465.08 173.58,1469.27 174.97,1460.89 177.77,1455.31 179.86,1445.53 180.56,1439.94 184.05,1435.75 188.94,1437.15 191.73,1431.56 193.13,1420.39 194.53,1409.22 198.72,1403.63 199.41,1398.04 201.51,1387.57 206.40,1384.08 207.09,1379.19 211.28,1372.91 218.27,1367.32 223.85,1357.54 229.44,1350.56 235.03,1349.16 240.61,1339.39 243.41,1333.80 249.69,1339.39 251.79,1333.80 256.68,1337.29 258.77,1326.82 265.75,1326.82 272.74,1321.23 276.57,1311.89 283.13,1314.08 291.89,1315.18 296.27,1310.80 305.03,1318.46 318.16,1322.84 331.30,1330.50 346.62,1339.91 370.70,1353.49 401.35,1377.57 427.62,1397.27 456.08,1419.16 480.16,1436.67 508.62,1455.28 530.51,1468.42 556.78,1481.55 567.72,1489.21 574.29,1485.93 600.56,1506.73 603.84,1502.35 624.64,1517.67 634.49,1519.86 641.06,1519.86" fill="none" stroke="#00ff00" stroke-width="2.2" stroke-linejoin="round"/>
<line x1="155.00" y1="1300.00" x2="155.00" y2="1763.80" stroke="#262626" stroke-width="1.5" />
<line x1="154.30" y1="1763.10" x2="640.30" y2="1763.10" stroke="#262626" stroke-width="1.5" />
<line x1="148.70" y1="1365.20" x2="155.00" y2="1365.20" stroke="#262626" stroke-width="1.4" />
<line x1="148.70" y1="1442.70" x2="155.00" y2="1442.70" stroke="#262626" stroke-width="1.4" />
<line x1="148.70" y1="1521.60" x2="155.00" y2="1521.60" stroke="#262626" stroke-width="1.4" />
<line x1="148.70" y1="1642.50" x2="155.00" y2="1642.50" stroke="#262626" stroke-width="1.4" />
<line x1="148.70" y1="1668.70" x2="155.00" y2="1668.70" stroke="#262626" stroke-width="1.4" />
<line x1="148.70" y1="1694.30" x2="155.00" y2="1694.30" stroke="#262626" stroke-width="1.4" />
<line x1="148.70" y1="1722.00" x2="155.00" y2="1722.00" stroke="#262626" stroke-width="1.4" />
<line x1="148.70" y1="1747.90" x2="155.00" y2="1747.90" stroke="#262626" stroke-width="1.4" />
<line x1="279.35" y1="1763.10" x2="279.35" y2="1767.60" stroke="#262626" stroke-width="1.4" />
<line x1="404.60" y1="1763.10" x2="404.60" y2="1767.60" stroke="#262626" stroke-width="1.4" />
<line x1="529.85" y1="1763.10" x2="529.85" y2="1767.60" stroke="#262626" stroke-width="1.4" />
<line x1="839.35" y1="1300.00" x2="839.35" y2="1535.70" stroke="#ebebeb" stroke-width="1.1" />
<line x1="839.35" y1="1630.10" x2="839.35" y2="1763.00" stroke="#ebebeb" stroke-width="1.1" />
<line x1="922.40" y1="1300.00" x2="922.40" y2="1535.70" stroke="#ebebeb" stroke-width="1.1" />
<line x1="922.40" y1="1630.10" x2="922.40" y2="1763.00" stroke="#ebebeb" stroke-width="1.1" />
<line x1="1005.45" y1="1300.00" x2="1005.45" y2="1535.70" stroke="#ebebeb" stroke-width="1.1" />
<line x1="1005.45" y1="1630.10" x2="1005.45" y2="1763.00" stroke="#ebebeb" stroke-width="1.1" />
<line x1="1088.50" y1="1300.00" x2="1088.50" y2="1535.70" stroke="#ebebeb" stroke-width="1.1" />
<line x1="1088.50" y1="1630.10" x2="1088.50" y2="1763.00" stroke="#ebebeb" stroke-width="1.1" />
<line x1="1171.55" y1="1300.00" x2="1171.55" y2="1535.70" stroke="#ebebeb" stroke-width="1.1" />
<line x1="1171.55" y1="1630.10" x2="1171.55" y2="1763.00" stroke="#ebebeb" stroke-width="1.1" />
<polygon points="756.00,1699.50 756.00,1669.90 757.00,1673.90 759.30,1680.50 762.00,1683.20 766.60,1685.10 770.00,1687.10 775.90,1688.80 786.90,1690.60 798.00,1692.10 814.60,1693.40 840.40,1695.20 873.50,1696.50 919.60,1697.60 974.00,1698.00 974.00,1699.50" fill="#bebebe"/>
<polygon points="1027.40,1700.10 1027.40,1701.00 1079.20,1701.00 1079.20,1701.90 1121.60,1702.10 1121.60,1703.30 1153.50,1703.80 1153.50,1705.00 1177.70,1705.40 1177.70,1706.40 1198.50,1707.10 1198.50,1708.10 1215.70,1709.40 1215.70,1711.10 1229.60,1712.90 1229.60,1715.10 1236.50,1717.90 1236.50,1720.60 1240.00,1726.90 1240.00,1734.40 1241.30,1746.90 1241.30,1756.90 1241.80,1756.90 1241.80,1700.10" fill="#bebebe"/>
<path d="M759.33 1535.70H760.53V1630.10H759.33ZM766.12 1535.70H768.28V1630.10H766.12ZM770.87 1535.70H772.60V1630.10H770.87ZM774.16 1535.70H775.36V1630.10H774.16ZM776.92 1535.70H779.08V1630.10H776.92ZM781.24 1535.70H787.72V1630.10H781.24ZM790.17 1535.70H791.61V1630.10H790.17ZM793.48 1535.70H798.52V1630.10H793.48ZM802.56 1535.70H805.72V1630.10H802.56ZM808.32 1535.70H809.76V1630.10H808.32ZM811.48 1535.70H816.96V1630.10H811.48ZM820.39 1535.70H821.59V1630.10H820.39ZM823.72 1535.70H833.37V1630.10H823.72ZM835.97 1535.70H839.57V1630.10H835.97ZM843.17 1535.70H846.77V1630.10H843.17ZM848.61 1535.70H849.81V1630.10H848.61ZM852.53 1535.70H854.40V1630.10H852.53ZM856.85 1535.70H860.74V1630.10H856.85ZM864.05 1535.70H865.49V1630.10H864.05ZM867.36 1535.70H874.85V1630.10H867.36ZM876.55 1535.70H877.75V1630.10H876.55ZM879.89 1535.70H882.05V1630.10H879.89ZM885.65 1535.70H887.81V1630.10H885.65ZM891.41 1535.70H898.61V1630.10H891.41ZM901.06 1535.70H902.50V1630.10H901.06ZM909.41 1535.70H916.61V1630.10H909.41ZM918.77 1535.70H920.93V1630.10H918.77ZM923.09 1535.70H925.54V1630.10H923.09ZM927.84 1535.70H930.29V1630.10H927.84ZM935.33 1535.70H938.93V1630.10H935.33ZM944.26 1535.70H945.70V1630.10H944.26ZM948.58 1535.70H950.02V1630.10H948.58ZM956.21 1535.70H968.17V1630.10H956.21ZM971.33 1535.70H972.77V1630.10H971.33ZM986.46 1535.70H987.90V1630.10H986.46ZM992.94 1535.70H996.54V1630.10H992.94ZM995.00 1535.70H996.44V1630.10H995.00ZM1004.48 1535.70H1005.68V1630.10H1004.48ZM1014.99 1535.70H1016.19V1630.10H1014.99ZM1018.16 1535.70H1019.36V1630.10H1018.16ZM1021.64 1535.70H1025.24V1630.10H1021.64ZM1027.52 1535.70H1028.72V1630.10H1027.52ZM1035.01 1535.70H1036.21V1630.10H1035.01ZM1040.77 1535.70H1041.97V1630.10H1040.77ZM1045.09 1535.70H1046.29V1630.10H1045.09ZM1048.40 1535.70H1049.60V1630.10H1048.40ZM1057.64 1535.70H1059.80V1630.10H1057.64ZM1062.08 1535.70H1063.28V1630.10H1062.08ZM1066.72 1535.70H1069.16V1630.10H1066.72ZM1072.60 1535.70H1073.80V1630.10H1072.60ZM1077.21 1535.70H1078.41V1630.10H1077.21ZM1080.52 1535.70H1081.72V1630.10H1080.52ZM1086.45 1535.70H1088.89V1630.10H1086.45ZM1092.33 1535.70H1093.53V1630.10H1092.33ZM1107.16 1535.70H1108.36V1630.10H1107.16ZM1110.93 1535.70H1114.53V1630.10H1110.93ZM1117.96 1535.70H1119.16V1630.10H1117.96ZM1121.44 1535.70H1123.46V1630.10H1121.44ZM1125.45 1535.70H1126.65V1630.10H1125.45ZM1130.06 1535.70H1131.26V1630.10H1130.06ZM1136.25 1535.70H1137.45V1630.10H1136.25ZM1149.64 1535.70H1150.84V1630.10H1149.64ZM1157.13 1535.70H1158.33V1630.10H1157.13ZM1161.74 1535.70H1162.94V1630.10H1161.74ZM1166.06 1535.70H1167.26V1630.10H1166.06ZM1169.37 1535.70H1170.57V1630.10H1169.37ZM1183.05 1535.70H1184.25V1630.10H1183.05ZM1199.61 1535.70H1200.81V1630.10H1199.61ZM1210.13 1535.70H1211.33V1630.10H1210.13ZM1213.61 1535.70H1217.49V1630.10H1213.61Z" fill="#000"/>
<rect x="756.10" y="1602.00" width="23.00" height="28.10" fill="#A50F15" fill-opacity="0.9"/>
<rect x="779.10" y="1602.00" width="107.30" height="28.10" fill="#DE2D26" fill-opacity="0.9"/>
<rect x="886.40" y="1602.00" width="84.90" height="28.10" fill="#FB6A4A" fill-opacity="0.9"/>
<rect x="971.30" y="1602.00" width="75.50" height="28.10" fill="#FCAE91" fill-opacity="0.9"/>
<rect x="1046.80" y="1602.00" width="53.00" height="28.10" fill="#FEE5D9" fill-opacity="0.9"/>
<rect x="1099.80" y="1602.00" width="36.30" height="28.10" fill="#EFF3FF" fill-opacity="0.9"/>
<rect x="1136.10" y="1602.00" width="34.60" height="28.10" fill="#BDD7E7" fill-opacity="0.9"/>
<rect x="1170.70" y="1602.00" width="28.10" height="28.10" fill="#6BAED6" fill-opacity="0.9"/>
<rect x="1198.80" y="1602.00" width="37.40" height="28.10" fill="#3182BD" fill-opacity="0.9"/>
<rect x="1236.20" y="1602.00" width="4.00" height="28.10" fill="#08519C" fill-opacity="0.9"/>
<polyline points="757.52,1522.38 759.62,1515.40 765.91,1520.99 767.30,1508.42 770.10,1509.81 770.79,1495.84 774.99,1484.67 779.18,1481.88 781.97,1459.53 784.06,1448.35 787.56,1442.76 793.84,1442.76 794.54,1428.80 797.33,1421.81 802.22,1424.61 803.62,1403.65 805.72,1400.86 810.60,1396.67 812.00,1385.49 814.80,1367.33 819.68,1370.13 823.18,1356.16 828.07,1350.57 830.16,1340.79 837.84,1338.00 842.03,1338.00 844.83,1332.41 851.81,1330.32 860.19,1328.22 867.18,1326.83 872.07,1312.86 881.15,1314.25 890.92,1317.05 890.00,1316.96 898.30,1311.78 902.44,1312.81 910.74,1319.03 914.89,1318.00 927.33,1323.18 935.62,1329.40 943.92,1333.55 956.36,1342.88 964.66,1344.96 993.69,1370.88 1014.43,1391.62 1035.17,1408.21 1047.61,1418.58 1068.35,1435.17 1087.01,1444.50 1093.24,1448.65 1107.75,1463.16 1113.97,1461.09 1122.27,1464.20 1126.42,1462.13 1136.79,1469.39 1157.52,1484.94 1167.89,1487.01 1171.00,1482.87 1184.48,1494.27 1199.00,1505.68 1210.41,1511.90 1216.63,1496.35 1240.48,1519.16" fill="none" stroke="#00ff00" stroke-width="2.2" stroke-linejoin="round"/>
<line x1="756.10" y1="1300.00" x2="756.10" y2="1763.70" stroke="#262626" stroke-width="1.5" />
<line x1="755.40" y1="1763.00" x2="1240.50" y2="1763.00" stroke="#262626" stroke-width="1.5" />
<line x1="749.80" y1="1333.10" x2="756.10" y2="1333.10" stroke="#262626" stroke-width="1.4" />
<line x1="749.80" y1="1379.20" x2="756.10" y2="1379.20" stroke="#262626" stroke-width="1.4" />
<line x1="749.80" y1="1426.70" x2="756.10" y2="1426.70" stroke="#262626" stroke-width="1.4" />
<line x1="749.80" y1="1472.80" x2="756.10" y2="1472.80" stroke="#262626" stroke-width="1.4" />
<line x1="749.80" y1="1520.30" x2="756.10" y2="1520.30" stroke="#262626" stroke-width="1.4" />
<line x1="749.80" y1="1665.60" x2="756.10" y2="1665.60" stroke="#262626" stroke-width="1.4" />
<line x1="749.80" y1="1699.80" x2="756.10" y2="1699.80" stroke="#262626" stroke-width="1.4" />
<line x1="749.80" y1="1734.20" x2="756.10" y2="1734.20" stroke="#262626" stroke-width="1.4" />
<line x1="922.40" y1="1763.00" x2="922.40" y2="1767.50" stroke="#262626" stroke-width="1.4" />
<line x1="1088.50" y1="1763.00" x2="1088.50" y2="1767.50" stroke="#262626" stroke-width="1.4" />
<line x1="216.72" y1="1957.30" x2="216.72" y2="2193.00" stroke="#ebebeb" stroke-width="1.1" />
<line x1="216.72" y1="2286.60" x2="216.72" y2="2419.30" stroke="#ebebeb" stroke-width="1.1" />
<line x1="279.35" y1="1957.30" x2="279.35" y2="2193.00" stroke="#ebebeb" stroke-width="1.1" />
<line x1="279.35" y1="2286.60" x2="279.35" y2="2419.30" stroke="#ebebeb" stroke-width="1.1" />
<line x1="341.98" y1="1957.30" x2="341.98" y2="2193.00" stroke="#ebebeb" stroke-width="1.1" />
<line x1="341.98" y1="2286.60" x2="341.98" y2="2419.30" stroke="#ebebeb" stroke-width="1.1" />
<line x1="404.60" y1="1957.30" x2="404.60" y2="2193.00" stroke="#ebebeb" stroke-width="1.1" />
<line x1="404.60" y1="2286.60" x2="404.60" y2="2419.30" stroke="#ebebeb" stroke-width="1.1" />
<line x1="467.23" y1="1957.30" x2="467.23" y2="2193.00" stroke="#ebebeb" stroke-width="1.1" />
<line x1="467.23" y1="2286.60" x2="467.23" y2="2419.30" stroke="#ebebeb" stroke-width="1.1" />
<line x1="529.85" y1="1957.30" x2="529.85" y2="2193.00" stroke="#ebebeb" stroke-width="1.1" />
<line x1="529.85" y1="2286.60" x2="529.85" y2="2419.30" stroke="#ebebeb" stroke-width="1.1" />
<line x1="592.48" y1="1957.30" x2="592.48" y2="2193.00" stroke="#ebebeb" stroke-width="1.1" />
<line x1="592.48" y1="2286.60" x2="592.48" y2="2419.30" stroke="#ebebeb" stroke-width="1.1" />
<polygon points="154.50,2350.60 154.50,2330.80 156.50,2332.80 160.50,2336.30 160.50,2338.40 165.00,2340.40 172.60,2341.60 175.00,2342.20 187.00,2343.60 212.00,2345.90 245.00,2346.10 245.30,2347.60 297.00,2347.90 297.00,2348.80 359.20,2349.20 359.20,2350.60" fill="#bebebe"/>
<polygon points="430.00,2350.60 430.00,2351.70 496.00,2352.60 540.00,2353.40 548.10,2353.60 548.10,2354.40 584.20,2354.90 584.20,2355.80 606.80,2356.30 606.80,2357.10 620.30,2357.80 620.30,2358.80 629.70,2359.80 629.70,2360.80 635.80,2362.80 635.80,2364.50 638.50,2367.30 638.50,2370.60 640.50,2378.30 640.50,2413.10 641.20,2413.10 641.20,2350.60" fill="#bebebe"/>
<path d="M158.35 2193.00H160.80V2286.60H158.35ZM163.08 2193.00H164.28V2286.60H163.08ZM165.96 2193.00H167.16V2286.60H165.96ZM177.07 2193.00H180.53V2286.60H177.07ZM182.81 2193.00H184.01V2286.60H182.81ZM185.40 2193.00H186.60V2286.60H185.40ZM192.31 2193.00H193.51V2286.60H192.31ZM199.08 2193.00H200.28V2286.60H199.08ZM203.28 2193.00H204.72V2286.60H203.28ZM208.44 2193.00H209.64V2286.60H208.44ZM214.80 2193.00H221.72V2286.60H214.80ZM229.33 2193.00H230.53V2286.60H229.33ZM233.24 2193.00H234.97V2286.60H233.24ZM240.13 2193.00H241.33V2286.60H240.13ZM244.73 2193.00H245.93V2286.60H244.73ZM264.32 2193.00H265.52V2286.60H264.32ZM267.49 2193.00H268.69V2286.60H267.49ZM317.17 2193.00H318.37V2286.60H317.17ZM320.48 2193.00H321.68V2286.60H320.48ZM338.77 2193.00H339.97V2286.60H338.77ZM358.50 2193.00H359.70V2286.60H358.50ZM374.77 2193.00H375.97V2286.60H374.77ZM378.09 2193.00H379.29V2286.60H378.09ZM414.60 2193.00H415.80V2286.60H414.60ZM427.99 2193.00H429.19V2286.60H427.99ZM432.05 2193.00H433.49V2286.60H432.05ZM452.04 2193.00H453.24V2286.60H452.04ZM455.36 2193.00H456.56V2286.60H455.36ZM459.96 2193.00H461.16V2286.60H459.96ZM469.04 2193.00H470.24V2286.60H469.04ZM506.77 2193.00H507.97V2286.60H506.77ZM510.08 2193.00H511.28V2286.60H510.08ZM512.96 2193.00H514.16V2286.60H512.96ZM531.25 2193.00H532.45V2286.60H531.25ZM544.64 2193.00H545.84V2286.60H544.64ZM625.14 2193.00H626.34V2286.60H625.14Z" fill="#000"/>
<rect x="155.00" y="2258.60" width="12.30" height="28.00" fill="#A50F15" fill-opacity="0.9"/>
<rect x="167.30" y="2258.60" width="155.50" height="28.00" fill="#DE2D26" fill-opacity="0.9"/>
<rect x="322.80" y="2258.60" width="41.10" height="28.00" fill="#FB6A4A" fill-opacity="0.9"/>
<rect x="363.90" y="2258.60" width="109.60" height="28.00" fill="#FCAE91" fill-opacity="0.9"/>
<rect x="473.50" y="2258.60" width="87.60" height="28.00" fill="#FEE5D9" fill-opacity="0.9"/>
<rect x="561.10" y="2258.60" width="18.30" height="28.00" fill="#EFF3FF" fill-opacity="0.9"/>
<rect x="579.40" y="2258.60" width="19.40" height="28.00" fill="#BDD7E7" fill-opacity="0.9"/>
<rect x="598.80" y="2258.60" width="17.30" height="28.00" fill="#6BAED6" fill-opacity="0.9"/>
<rect x="616.10" y="2258.60" width="24.20" height="28.00" fill="#3182BD" fill-opacity="0.9"/>
<polyline points="156.13,2146.54 158.22,2147.24 159.62,2134.67 160.32,2122.10 163.81,2120.70 163.11,2101.15 166.60,2089.97 176.38,2095.56 176.38,2078.80 177.78,2062.03 179.18,2053.65 183.37,2049.46 186.16,2040.38 191.75,2043.87 193.84,2030.60 198.73,2032.70 199.43,2027.11 202.92,2017.33 207.81,2018.03 208.51,2007.56 214.80,2010.35 216.19,1993.59 221.08,1978.92 229.46,1983.11 235.05,1971.24 240.64,1974.03 244.83,1968.45 250.41,1971.94 261.59,1979.62 267.88,1976.13 278.35,1982.41 300.00,1997.78 314.89,2004.96 323.18,2006.41 339.77,2016.36 377.10,2037.10 401.99,2053.69 431.02,2072.36 453.83,2085.84 468.35,2093.09 505.68,2115.91 512.94,2114.87 530.56,2124.20 543.01,2130.42 547.15,2128.76 623.89,2181.23 624.92,2171.90 640.48,2180.61" fill="none" stroke="#00ff00" stroke-width="2.2" stroke-linejoin="round"/>
<line x1="155.00" y1="1957.30" x2="155.00" y2="2420.00" stroke="#262626" stroke-width="1.5" />
<line x1="154.30" y1="2419.30" x2="640.30" y2="2419.30" stroke="#262626" stroke-width="1.5" />
<line x1="148.70" y1="1990.50" x2="155.00" y2="1990.50" stroke="#262626" stroke-width="1.4" />
<line x1="148.70" y1="2053.70" x2="155.00" y2="2053.70" stroke="#262626" stroke-width="1.4" />
<line x1="148.70" y1="2117.90" x2="155.00" y2="2117.90" stroke="#262626" stroke-width="1.4" />
<line x1="148.70" y1="2181.50" x2="155.00" y2="2181.50" stroke="#262626" stroke-width="1.4" />
<line x1="148.70" y1="2299.20" x2="155.00" y2="2299.20" stroke="#262626" stroke-width="1.4" />
<line x1="148.70" y1="2325.10" x2="155.00" y2="2325.10" stroke="#262626" stroke-width="1.4" />
<line x1="148.70" y1="2350.70" x2="155.00" y2="2350.70" stroke="#262626" stroke-width="1.4" />
<line x1="148.70" y1="2378.30" x2="155.00" y2="2378.30" stroke="#262626" stroke-width="1.4" />
<line x1="148.70" y1="2403.70" x2="155.00" y2="2403.70" stroke="#262626" stroke-width="1.4" />
<line x1="279.35" y1="2419.30" x2="279.35" y2="2423.80" stroke="#262626" stroke-width="1.4" />
<line x1="404.60" y1="2419.30" x2="404.60" y2="2423.80" stroke="#262626" stroke-width="1.4" />
<line x1="529.85" y1="2419.30" x2="529.85" y2="2423.80" stroke="#262626" stroke-width="1.4" />
<line x1="839.35" y1="1957.30" x2="839.35" y2="2193.00" stroke="#ebebeb" stroke-width="1.1" />
<line x1="839.35" y1="2286.60" x2="839.35" y2="2419.40" stroke="#ebebeb" stroke-width="1.1" />
<line x1="922.40" y1="1957.30" x2="922.40" y2="2193.00" stroke="#ebebeb" stroke-width="1.1" />
<line x1="922.40" y1="2286.60" x2="922.40" y2="2419.40" stroke="#ebebeb" stroke-width="1.1" />
<line x1="1005.45" y1="1957.30" x2="1005.45" y2="2193.00" stroke="#ebebeb" stroke-width="1.1" />
<line x1="1005.45" y1="2286.60" x2="1005.45" y2="2419.40" stroke="#ebebeb" stroke-width="1.1" />
<line x1="1088.50" y1="1957.30" x2="1088.50" y2="2193.00" stroke="#ebebeb" stroke-width="1.1" />
<line x1="1088.50" y1="2286.60" x2="1088.50" y2="2419.40" stroke="#ebebeb" stroke-width="1.1" />
<line x1="1171.55" y1="1957.30" x2="1171.55" y2="2193.00" stroke="#ebebeb" stroke-width="1.1" />
<line x1="1171.55" y1="2286.60" x2="1171.55" y2="2419.40" stroke="#ebebeb" stroke-width="1.1" />
<polygon points="756.00,2356.30 756.00,2326.70 757.00,2330.70 759.30,2337.30 762.00,2340.00 766.60,2341.90 770.00,2343.90 775.90,2345.60 786.90,2347.40 798.00,2348.90 814.60,2350.20 840.40,2352.00 873.50,2353.30 919.60,2354.40 974.00,2354.80 974.00,2356.30" fill="#bebebe"/>
<polygon points="1027.40,2356.90 1027.40,2357.80 1079.20,2357.80 1079.20,2358.70 1121.60,2358.90 1121.60,2360.10 1153.50,2360.60 1153.50,2361.80 1177.70,2362.20 1177.70,2363.20 1198.50,2363.90 1198.50,2364.90 1215.70,2366.20 1215.70,2367.90 1229.60,2369.70 1229.60,2371.90 1236.50,2374.70 1236.50,2377.40 1240.00,2383.70 1240.00,2391.20 1241.30,2403.70 1241.30,2413.70 1241.80,2413.70 1241.80,2356.90" fill="#bebebe"/>
<path d="M762.64 2193.00H763.84V2286.60H762.64ZM765.95 2193.00H767.15V2286.60H765.95ZM770.87 2193.00H772.60V2286.60H770.87ZM774.88 2193.00H776.08V2286.60H774.88ZM779.80 2193.00H781.53V2286.60H779.80ZM787.12 2193.00H788.32V2286.60H787.12ZM792.04 2193.00H795.35V2286.60H792.04ZM799.36 2193.00H800.56V2286.60H799.36ZM808.00 2193.00H809.20V2286.60H808.00ZM812.61 2193.00H813.81V2286.60H812.61ZM815.49 2193.00H816.69V2286.60H815.49ZM818.80 2193.00H820.00V2286.60H818.80ZM826.44 2193.00H827.64V2286.60H826.44ZM849.05 2193.00H850.25V2286.60H849.05ZM859.13 2193.00H860.33V2286.60H859.13ZM862.73 2193.00H863.93V2286.60H862.73ZM879.29 2193.00H880.49V2286.60H879.29ZM882.17 2193.00H883.37V2286.60H882.17ZM886.08 2193.00H889.25V2286.60H886.08ZM894.41 2193.00H895.61V2286.60H894.41ZM900.77 2193.00H902.50V2286.60H900.77ZM920.04 2193.00H921.24V2286.60H920.04ZM933.58 2193.00H934.78V2286.60H933.58ZM939.77 2193.00H940.97V2286.60H939.77ZM947.40 2193.00H948.60V2286.60H947.40ZM957.77 2193.00H958.97V2286.60H957.77ZM964.42 2193.00H966.29V2286.60H964.42ZM983.69 2193.00H984.89V2286.60H983.69ZM998.82 2193.00H1000.02V2286.60H998.82ZM998.72 2193.00H999.92V2286.60H998.72ZM1028.96 2193.00H1030.16V2286.60H1028.96ZM1036.45 2193.00H1037.65V2286.60H1036.45ZM1053.16 2193.00H1054.36V2286.60H1053.16ZM1062.08 2193.00H1063.28V2286.60H1062.08ZM1104.57 2193.00H1105.77V2286.60H1104.57ZM1137.69 2193.00H1138.89V2286.60H1137.69ZM1171.41 2193.00H1173.57V2286.60H1171.41ZM1183.05 2193.00H1184.25V2286.60H1183.05ZM1195.29 2193.00H1196.49V2286.60H1195.29Z" fill="#000"/>
<rect x="756.10" y="2258.60" width="43.10" height="28.00" fill="#A50F15" fill-opacity="0.9"/>
<rect x="799.20" y="2258.60" width="134.40" height="28.00" fill="#DE2D26" fill-opacity="0.9"/>
<rect x="933.60" y="2258.60" width="77.00" height="28.00" fill="#FB6A4A" fill-opacity="0.9"/>
<rect x="1010.60" y="2258.60" width="51.80" height="28.00" fill="#FCAE91" fill-opacity="0.9"/>
<rect x="1062.40" y="2258.60" width="46.10" height="28.00" fill="#FEE5D9" fill-opacity="0.9"/>
<rect x="1108.50" y="2258.60" width="61.50" height="28.00" fill="#EFF3FF" fill-opacity="0.9"/>
<rect x="1170.00" y="2258.60" width="25.20" height="28.00" fill="#BDD7E7" fill-opacity="0.9"/>
<rect x="1195.20" y="2258.60" width="19.40" height="28.00" fill="#6BAED6" fill-opacity="0.9"/>
<rect x="1214.60" y="2258.60" width="25.60" height="28.00" fill="#3182BD" fill-opacity="0.9"/>
<polyline points="757.52,2137.46 763.11,2143.05 763.11,2124.89 766.60,2124.89 765.91,2109.53 770.79,2112.32 770.79,2098.35 772.19,2084.38 775.68,2087.18 775.68,2073.21 779.87,2076.00 780.57,2053.65 787.56,2057.84 787.56,2036.19 791.75,2038.29 793.14,2010.35 794.54,2000.57 799.43,2003.37 800.13,1994.29 807.81,2001.97 808.51,1992.89 813.40,1994.99 814.10,1983.81 819.68,1983.81 819.68,1969.14 826.67,1975.43 827.37,1968.45 835.05,1974.03 843.43,1982.41 849.72,1981.72 850.41,1986.60 859.49,1990.10 862.99,1981.72 867.88,1984.51 878.35,1992.89 888.13,1982.41 895.11,1982.41 890.00,1982.14 898.30,1984.22 902.44,1976.96 919.03,1989.40 933.55,1997.70 952.21,2008.07 966.73,2014.29 993.69,2035.03 1018.58,2054.73 1035.17,2066.13 1053.83,2079.61 1062.13,2082.73 1084.94,2099.32 1105.68,2113.83 1136.79,2135.61 1138.86,2132.50 1168.93,2157.38 1172.04,2145.98 1182.41,2153.24 1183.45,2145.98 1194.85,2154.27 1195.89,2144.94 1240.48,2180.19" fill="none" stroke="#00ff00" stroke-width="2.2" stroke-linejoin="round"/>
<line x1="756.10" y1="1957.30" x2="756.10" y2="2420.10" stroke="#262626" stroke-width="1.5" />
<line x1="755.40" y1="2419.40" x2="1240.50" y2="2419.40" stroke="#262626" stroke-width="1.5" />
<line x1="749.80" y1="2027.40" x2="756.10" y2="2027.40" stroke="#262626" stroke-width="1.4" />
<line x1="749.80" y1="2105.30" x2="756.10" y2="2105.30" stroke="#262626" stroke-width="1.4" />
<line x1="749.80" y1="2181.50" x2="756.10" y2="2181.50" stroke="#262626" stroke-width="1.4" />
<line x1="749.80" y1="2322.20" x2="756.10" y2="2322.20" stroke="#262626" stroke-width="1.4" />
<line x1="749.80" y1="2356.70" x2="756.10" y2="2356.70" stroke="#262626" stroke-width="1.4" />
<line x1="749.80" y1="2391.30" x2="756.10" y2="2391.30" stroke="#262626" stroke-width="1.4" />
<line x1="922.40" y1="2419.40" x2="922.40" y2="2423.90" stroke="#262626" stroke-width="1.4" />
<line x1="1088.50" y1="2419.40" x2="1088.50" y2="2423.90" stroke="#262626" stroke-width="1.4" />
<line x1="1584.80" y1="124.40" x2="1584.80" y2="359.30" stroke="#ebebeb" stroke-width="1.1" />
<line x1="1584.80" y1="453.50" x2="1584.80" y2="586.50" stroke="#ebebeb" stroke-width="1.1" />
<line x1="1664.00" y1="124.40" x2="1664.00" y2="359.30" stroke="#ebebeb" stroke-width="1.1" />
<line x1="1664.00" y1="453.50" x2="1664.00" y2="586.50" stroke="#ebebeb" stroke-width="1.1" />
<line x1="1743.20" y1="124.40" x2="1743.20" y2="359.30" stroke="#ebebeb" stroke-width="1.1" />
<line x1="1743.20" y1="453.50" x2="1743.20" y2="586.50" stroke="#ebebeb" stroke-width="1.1" />
<line x1="1822.40" y1="124.40" x2="1822.40" y2="359.30" stroke="#ebebeb" stroke-width="1.1" />
<line x1="1822.40" y1="453.50" x2="1822.40" y2="586.50" stroke="#ebebeb" stroke-width="1.1" />
<line x1="1901.60" y1="124.40" x2="1901.60" y2="359.30" stroke="#ebebeb" stroke-width="1.1" />
<line x1="1901.60" y1="453.50" x2="1901.60" y2="586.50" stroke="#ebebeb" stroke-width="1.1" />
<polygon points="1505.40,523.10 1505.40,493.50 1506.27,497.50 1508.46,504.10 1511.04,506.80 1515.42,508.70 1518.66,510.70 1524.29,512.40 1534.78,514.20 1545.37,515.70 1561.20,517.00 1585.80,518.80 1617.37,520.10 1661.33,521.20 1713.21,521.60 1713.21,523.10" fill="#bebebe"/>
<polygon points="1764.13,523.70 1764.13,524.60 1813.53,524.60 1813.53,525.50 1853.97,525.70 1853.97,526.90 1884.39,527.40 1884.39,528.60 1907.46,529.00 1907.46,530.00 1927.30,530.70 1927.30,531.70 1943.70,533.00 1943.70,534.70 1956.96,536.50 1956.96,538.70 1963.54,541.50 1963.54,544.20 1966.88,550.50 1966.88,558.00 1968.12,570.50 1968.12,580.50 1968.59,580.50 1968.59,523.70" fill="#bebebe"/>
<path d="M1505.47 359.30H1510.80V453.50H1505.47ZM1516.13 359.30H1518.00V453.50H1516.13ZM1519.56 359.30H1520.76V453.50H1519.56ZM1521.00 359.30H1522.20V453.50H1521.00ZM1523.16 359.30H1524.36V453.50H1523.16ZM1530.36 359.30H1531.56V453.50H1530.36ZM1539.00 359.30H1540.20V453.50H1539.00ZM1550.52 359.30H1551.72V453.50H1550.52ZM1570.68 359.30H1571.88V453.50H1570.68ZM1598.05 359.30H1599.25V453.50H1598.05ZM1609.57 359.30H1610.77V453.50H1609.57ZM1634.05 359.30H1635.25V453.50H1634.05ZM1638.37 359.30H1639.57V453.50H1638.37ZM1650.18 359.30H1651.38V453.50H1650.18ZM1673.36 359.30H1674.56V453.50H1673.36ZM1690.64 359.30H1691.84V453.50H1690.64ZM1762.81 359.30H1764.01V453.50H1762.81ZM1795.93 359.30H1797.13V453.50H1795.93ZM1808.89 359.30H1810.09V453.50H1808.89ZM1813.53 359.30H1815.69V453.50H1813.53ZM1820.41 359.30H1821.61V453.50H1820.41ZM1826.49 359.30H1828.65V453.50H1826.49ZM1838.29 359.30H1840.17V453.50H1838.29ZM1855.41 359.30H1856.61V453.50H1855.41ZM1878.16 359.30H1879.36V453.50H1878.16ZM1881.33 359.30H1882.53V453.50H1881.33ZM1888.24 359.30H1889.44V453.50H1888.24ZM1898.32 359.30H1899.52V453.50H1898.32ZM1905.81 359.30H1907.01V453.50H1905.81ZM1912.72 359.30H1913.92V453.50H1912.72ZM1917.33 359.30H1918.53V453.50H1917.33ZM1923.26 359.30H1925.56V453.50H1923.26ZM1928.85 359.30H1930.05V453.50H1928.85ZM1937.21 359.30H1938.41V453.50H1937.21ZM1940.37 359.30H1941.57V453.50H1940.37ZM1954.77 359.30H1955.97V453.50H1954.77ZM1958.25 359.30H1960.13V453.50H1958.25ZM1965.14 359.30H1966.34V453.50H1965.14Z" fill="#000"/>
<rect x="1505.40" y="425.30" width="37.50" height="28.20" fill="#DE2D26" fill-opacity="0.9"/>
<rect x="1542.90" y="425.30" width="23.30" height="28.20" fill="#FB6A4A" fill-opacity="0.9"/>
<rect x="1566.20" y="425.30" width="68.00" height="28.20" fill="#FCAE91" fill-opacity="0.9"/>
<rect x="1634.20" y="425.30" width="27.10" height="28.20" fill="#FEE5D9" fill-opacity="0.9"/>
<rect x="1661.30" y="425.30" width="170.70" height="28.20" fill="#EFF3FF" fill-opacity="0.9"/>
<rect x="1832.00" y="425.30" width="109.40" height="28.20" fill="#BDD7E7" fill-opacity="0.9"/>
<rect x="1941.40" y="425.30" width="19.00" height="28.20" fill="#6BAED6" fill-opacity="0.9"/>
<rect x="1960.40" y="425.30" width="7.40" height="28.20" fill="#3182BD" fill-opacity="0.9"/>
<polyline points="1506.13,267.18 1506.55,219.68 1507.52,249.02 1508.22,221.08 1508.92,195.94 1509.62,161.02 1512.41,163.81 1515.91,165.21 1516.60,149.84 1519.40,147.05 1520.79,142.86 1523.59,137.27 1530.57,140.06 1531.27,135.18 1538.95,140.06 1540.35,135.87 1550.13,142.86 1552.92,140.06 1569.68,152.64 1571.78,149.84 1585.05,160.32 1597.62,169.40 1599.02,166.60 1608.80,173.59 1612.99,173.59 1628.35,184.76 1634.64,188.95 1640.22,190.35 1650.37,195.40 1671.11,210.95 1693.92,224.43 1722.95,245.17 1743.69,261.76 1764.43,277.31 1791.39,297.01 1810.05,307.38 1826.64,313.60 1839.09,317.75 1855.68,327.08 1876.42,340.56 1888.86,341.60 1899.23,346.79 1907.52,341.60 1915.82,342.64 1926.19,332.27 1938.63,333.31 1940.71,325.01 1955.22,335.38 1955.22,327.08 1959.37,306.35 1964.55,310.49 1965.59,294.94" fill="none" stroke="#00ff00" stroke-width="2.2" stroke-linejoin="round"/>
<line x1="1505.40" y1="124.40" x2="1505.40" y2="587.20" stroke="#262626" stroke-width="1.5" />
<line x1="1504.70" y1="586.50" x2="1968.00" y2="586.50" stroke="#262626" stroke-width="1.5" />
<line x1="1499.10" y1="161.70" x2="1505.40" y2="161.70" stroke="#262626" stroke-width="1.4" />
<line x1="1499.10" y1="228.80" x2="1505.40" y2="228.80" stroke="#262626" stroke-width="1.4" />
<line x1="1499.10" y1="296.50" x2="1505.40" y2="296.50" stroke="#262626" stroke-width="1.4" />
<line x1="1499.10" y1="489.20" x2="1505.40" y2="489.20" stroke="#262626" stroke-width="1.4" />
<line x1="1499.10" y1="523.80" x2="1505.40" y2="523.80" stroke="#262626" stroke-width="1.4" />
<line x1="1499.10" y1="558.00" x2="1505.40" y2="558.00" stroke="#262626" stroke-width="1.4" />
<line x1="1664.00" y1="586.50" x2="1664.00" y2="591.00" stroke="#262626" stroke-width="1.4" />
<line x1="1822.40" y1="586.50" x2="1822.40" y2="591.00" stroke="#262626" stroke-width="1.4" />
<line x1="1573.30" y1="768.90" x2="1573.30" y2="1004.30" stroke="#ebebeb" stroke-width="1.1" />
<line x1="1573.30" y1="1098.60" x2="1573.30" y2="1231.40" stroke="#ebebeb" stroke-width="1.1" />
<line x1="1637.80" y1="768.90" x2="1637.80" y2="1004.30" stroke="#ebebeb" stroke-width="1.1" />
<line x1="1637.80" y1="1098.60" x2="1637.80" y2="1231.40" stroke="#ebebeb" stroke-width="1.1" />
<line x1="1702.30" y1="768.90" x2="1702.30" y2="1004.30" stroke="#ebebeb" stroke-width="1.1" />
<line x1="1702.30" y1="1098.60" x2="1702.30" y2="1231.40" stroke="#ebebeb" stroke-width="1.1" />
<line x1="1766.80" y1="768.90" x2="1766.80" y2="1004.30" stroke="#ebebeb" stroke-width="1.1" />
<line x1="1766.80" y1="1098.60" x2="1766.80" y2="1231.40" stroke="#ebebeb" stroke-width="1.1" />
<line x1="1831.30" y1="768.90" x2="1831.30" y2="1004.30" stroke="#ebebeb" stroke-width="1.1" />
<line x1="1831.30" y1="1098.60" x2="1831.30" y2="1231.40" stroke="#ebebeb" stroke-width="1.1" />
<line x1="1895.80" y1="768.90" x2="1895.80" y2="1004.30" stroke="#ebebeb" stroke-width="1.1" />
<line x1="1895.80" y1="1098.60" x2="1895.80" y2="1231.40" stroke="#ebebeb" stroke-width="1.1" />
<line x1="1960.30" y1="768.90" x2="1960.30" y2="1004.30" stroke="#ebebeb" stroke-width="1.1" />
<line x1="1960.30" y1="1098.60" x2="1960.30" y2="1231.40" stroke="#ebebeb" stroke-width="1.1" />
<polygon points="1509.40,1169.50 1509.40,1147.00 1510.50,1149.50 1511.20,1153.90 1514.70,1158.30 1519.90,1160.80 1528.50,1162.90 1538.90,1164.30 1556.10,1166.00 1595.90,1167.40 1674.50,1168.10 1674.50,1169.50" fill="#bebebe"/>
<polygon points="1792.30,1169.80 1792.30,1170.80 1879.70,1170.90 1879.70,1171.50 1929.70,1172.00 1929.70,1173.10 1955.50,1173.80 1955.50,1174.70 1971.60,1176.00 1971.60,1177.10 1984.50,1179.00 1984.50,1180.30 1991.00,1184.00 1991.00,1186.80 1994.20,1192.00 1994.20,1196.50 1995.00,1210.00 1995.00,1223.90 1995.50,1223.90 1995.50,1169.80" fill="#bebebe"/>
<path d="M1509.19 1004.30H1510.39V1098.60H1509.19ZM1527.19 1004.30H1528.39V1098.60H1527.19ZM1586.09 1004.30H1587.29V1098.60H1586.09ZM1597.61 1004.30H1598.81V1098.60H1597.61ZM1627.86 1004.30H1629.06V1098.60H1627.86ZM1639.09 1004.30H1640.29V1098.60H1639.09ZM1642.26 1004.30H1643.46V1098.60H1642.26ZM1685.46 1004.30H1686.66V1098.60H1685.46ZM1747.38 1004.30H1748.58V1098.60H1747.38ZM1758.76 1004.30H1759.96V1098.60H1758.76ZM1777.48 1004.30H1778.68V1098.60H1777.48ZM1784.68 1004.30H1785.88V1098.60H1784.68ZM1793.32 1004.30H1794.52V1098.60H1793.32ZM1804.84 1004.30H1806.04V1098.60H1804.84ZM1816.36 1004.30H1817.56V1098.60H1816.36ZM1823.56 1004.30H1824.76V1098.60H1823.56ZM1838.13 1004.30H1841.88V1098.60H1838.13ZM1845.33 1004.30H1847.64V1098.60H1845.33ZM1849.49 1004.30H1850.69V1098.60H1849.49ZM1860.00 1004.30H1861.20V1098.60H1860.00ZM1868.38 1004.30H1872.12V1098.60H1868.38ZM1875.41 1004.30H1876.61V1098.60H1875.41ZM1881.17 1004.30H1882.37V1098.60H1881.17ZM1884.05 1004.30H1885.25V1098.60H1884.05ZM1890.53 1004.30H1891.73V1098.60H1890.53ZM1901.33 1004.30H1902.53V1098.60H1901.33ZM1907.09 1004.30H1908.29V1098.60H1907.09ZM1909.97 1004.30H1911.17V1098.60H1909.97ZM1912.85 1004.30H1914.05V1098.60H1912.85ZM1922.81 1004.30H1926.84V1098.60H1922.81ZM1931.74 1004.30H1935.77V1098.60H1931.74ZM1938.34 1004.30H1939.54V1098.60H1938.34ZM1942.66 1004.30H1943.86V1098.60H1942.66ZM1945.85 1004.30H1952.76V1098.60H1945.85ZM1957.49 1004.30H1958.69V1098.60H1957.49ZM1961.69 1004.30H1964.29V1098.60H1961.69ZM1966.73 1004.30H1968.17V1098.60H1966.73ZM1971.05 1004.30H1975.81V1098.60H1971.05ZM1978.25 1004.30H1993.09V1098.60H1978.25Z" fill="#000"/>
<rect x="1509.40" y="1070.30" width="9.00" height="28.30" fill="#DE2D26" fill-opacity="0.9"/>
<rect x="1518.40" y="1070.30" width="9.00" height="28.30" fill="#FB6A4A" fill-opacity="0.9"/>
<rect x="1527.40" y="1070.30" width="11.20" height="28.30" fill="#FCAE91" fill-opacity="0.9"/>
<rect x="1538.60" y="1070.30" width="16.80" height="28.30" fill="#FEE5D9" fill-opacity="0.9"/>
<rect x="1555.40" y="1070.30" width="41.10" height="28.30" fill="#EFF3FF" fill-opacity="0.9"/>
<rect x="1596.50" y="1070.30" width="45.80" height="28.30" fill="#BDD7E7" fill-opacity="0.9"/>
<rect x="1642.30" y="1070.30" width="65.80" height="28.30" fill="#6BAED6" fill-opacity="0.9"/>
<rect x="1708.10" y="1070.30" width="285.30" height="28.30" fill="#3182BD" fill-opacity="0.9"/>
<rect x="1993.40" y="1070.30" width="1.20" height="28.30" fill="#08519C" fill-opacity="0.9"/>
<polyline points="1509.90,789.14 1510.32,779.37 1527.78,789.14 1527.78,785.65 1572.48,812.89 1587.14,821.27 1599.02,826.86 1625.56,842.22 1639.53,849.91 1640.00,849.91 1685.62,875.84 1722.95,896.57 1764.43,922.50 1805.91,945.31 1837.01,965.01 1859.83,973.31 1888.86,981.60 1901.30,986.79 1922.04,991.97 1930.34,989.90 1944.85,989.90 1951.07,974.34 1963.52,963.97 1967.66,949.46 1973.89,926.64 1980.11,907.98 1982.18,889.32 1984.26,851.99 1988.40,839.54 1990.48,810.51 1992.55,785.62" fill="none" stroke="#00ff00" stroke-width="2.2" stroke-linejoin="round"/>
<line x1="1509.30" y1="768.90" x2="1509.30" y2="1232.10" stroke="#262626" stroke-width="1.5" />
<line x1="1508.60" y1="1231.40" x2="1994.50" y2="1231.40" stroke="#262626" stroke-width="1.5" />
<line x1="1503.00" y1="786.40" x2="1509.30" y2="786.40" stroke="#262626" stroke-width="1.4" />
<line x1="1503.00" y1="845.00" x2="1509.30" y2="845.00" stroke="#262626" stroke-width="1.4" />
<line x1="1503.00" y1="904.10" x2="1509.30" y2="904.10" stroke="#262626" stroke-width="1.4" />
<line x1="1503.00" y1="963.00" x2="1509.30" y2="963.00" stroke="#262626" stroke-width="1.4" />
<line x1="1503.00" y1="1100.70" x2="1509.30" y2="1100.70" stroke="#262626" stroke-width="1.4" />
<line x1="1503.00" y1="1135.30" x2="1509.30" y2="1135.30" stroke="#262626" stroke-width="1.4" />
<line x1="1503.00" y1="1169.50" x2="1509.30" y2="1169.50" stroke="#262626" stroke-width="1.4" />
<line x1="1503.00" y1="1203.70" x2="1509.30" y2="1203.70" stroke="#262626" stroke-width="1.4" />
<line x1="1637.80" y1="1231.40" x2="1637.80" y2="1235.90" stroke="#262626" stroke-width="1.4" />
<line x1="1766.80" y1="1231.40" x2="1766.80" y2="1235.90" stroke="#262626" stroke-width="1.4" />
<line x1="1895.80" y1="1231.40" x2="1895.80" y2="1235.90" stroke="#262626" stroke-width="1.4" />
<line x1="1573.30" y1="1354.00" x2="1573.30" y2="1589.30" stroke="#ebebeb" stroke-width="1.1" />
<line x1="1573.30" y1="1683.40" x2="1573.30" y2="1816.10" stroke="#ebebeb" stroke-width="1.1" />
<line x1="1637.80" y1="1354.00" x2="1637.80" y2="1589.30" stroke="#ebebeb" stroke-width="1.1" />
<line x1="1637.80" y1="1683.40" x2="1637.80" y2="1816.10" stroke="#ebebeb" stroke-width="1.1" />
<line x1="1702.30" y1="1354.00" x2="1702.30" y2="1589.30" stroke="#ebebeb" stroke-width="1.1" />
<line x1="1702.30" y1="1683.40" x2="1702.30" y2="1816.10" stroke="#ebebeb" stroke-width="1.1" />
<line x1="1766.80" y1="1354.00" x2="1766.80" y2="1589.30" stroke="#ebebeb" stroke-width="1.1" />
<line x1="1766.80" y1="1683.40" x2="1766.80" y2="1816.10" stroke="#ebebeb" stroke-width="1.1" />
<line x1="1831.30" y1="1354.00" x2="1831.30" y2="1589.30" stroke="#ebebeb" stroke-width="1.1" />
<line x1="1831.30" y1="1683.40" x2="1831.30" y2="1816.10" stroke="#ebebeb" stroke-width="1.1" />
<line x1="1895.80" y1="1354.00" x2="1895.80" y2="1589.30" stroke="#ebebeb" stroke-width="1.1" />
<line x1="1895.80" y1="1683.40" x2="1895.80" y2="1816.10" stroke="#ebebeb" stroke-width="1.1" />
<line x1="1960.30" y1="1354.00" x2="1960.30" y2="1589.30" stroke="#ebebeb" stroke-width="1.1" />
<line x1="1960.30" y1="1683.40" x2="1960.30" y2="1816.10" stroke="#ebebeb" stroke-width="1.1" />
<polygon points="1509.40,1754.70 1509.40,1731.84 1510.50,1734.38 1511.20,1738.85 1514.70,1743.32 1519.90,1745.86 1528.50,1747.99 1538.90,1749.42 1556.10,1751.14 1595.90,1752.57 1674.50,1753.28 1674.50,1754.70" fill="#bebebe"/>
<polygon points="1792.30,1755.00 1792.30,1756.02 1879.70,1756.12 1879.70,1756.73 1929.70,1757.24 1929.70,1758.36 1955.50,1759.07 1955.50,1759.98 1971.60,1761.30 1971.60,1762.42 1984.50,1764.35 1984.50,1765.67 1991.00,1769.43 1991.00,1772.28 1994.20,1777.56 1994.20,1782.13 1995.00,1795.85 1995.00,1809.97 1995.50,1809.97 1995.50,1755.00" fill="#bebebe"/>
<path d="M1517.57 1589.30H1519.44V1683.40H1517.57ZM1557.29 1589.30H1558.49V1683.40H1557.29ZM1591.85 1589.30H1593.05V1683.40H1591.85ZM1594.73 1589.30H1595.93V1683.40H1594.73ZM1650.61 1589.30H1651.81V1683.40H1650.61ZM1666.45 1589.30H1667.65V1683.40H1666.45ZM1679.41 1589.30H1680.61V1683.40H1679.41ZM1682.29 1589.30H1683.49V1683.40H1682.29ZM1685.17 1589.30H1686.37V1683.40H1685.17ZM1688.34 1589.30H1689.54V1683.40H1688.34ZM1717.14 1589.30H1718.34V1683.40H1717.14ZM1728.66 1589.30H1729.86V1683.40H1728.66ZM1741.34 1589.30H1742.54V1683.40H1741.34ZM1746.54 1589.30H1748.42V1683.40H1746.54ZM1750.12 1589.30H1751.32V1683.40H1750.12ZM1765.96 1589.30H1767.16V1683.40H1765.96ZM1773.16 1589.30H1774.36V1683.40H1773.16ZM1790.44 1589.30H1791.64V1683.40H1790.44ZM1794.93 1589.30H1798.68V1683.40H1794.93ZM1801.96 1589.30H1803.16V1683.40H1801.96ZM1811.76 1589.30H1812.96V1683.40H1811.76ZM1816.36 1589.30H1817.56V1683.40H1816.36ZM1836.09 1589.30H1837.29V1683.40H1836.09ZM1839.41 1589.30H1840.61V1683.40H1839.41ZM1844.73 1589.30H1845.93V1683.40H1844.73ZM1849.05 1589.30H1850.25V1683.40H1849.05ZM1851.93 1589.30H1853.13V1683.40H1851.93ZM1855.25 1589.30H1856.45V1683.40H1855.25ZM1859.57 1589.30H1860.77V1683.40H1859.57ZM1865.33 1589.30H1866.53V1683.40H1865.33ZM1878.29 1589.30H1879.49V1683.40H1878.29ZM1885.06 1589.30H1886.26V1683.40H1885.06ZM1887.94 1589.30H1889.14V1683.40H1887.94ZM1891.25 1589.30H1892.45V1683.40H1891.25ZM1896.58 1589.30H1897.78V1683.40H1896.58ZM1900.90 1589.30H1902.10V1683.40H1900.90ZM1904.81 1589.30H1911.00V1683.40H1904.81ZM1912.85 1589.30H1914.05V1683.40H1912.85ZM1917.17 1589.30H1918.37V1683.40H1917.17ZM1924.37 1589.30H1925.57V1683.40H1924.37ZM1930.01 1589.30H1932.60V1683.40H1930.01ZM1935.46 1589.30H1936.66V1683.40H1935.46ZM1938.94 1589.30H1941.24V1683.40H1938.94ZM1946.14 1589.30H1951.32V1683.40H1946.14ZM1954.18 1589.30H1955.38V1683.40H1954.18ZM1958.93 1589.30H1960.13V1683.40H1958.93ZM1961.69 1589.30H1966.73V1683.40H1961.69ZM1971.17 1589.30H1972.37V1683.40H1971.17ZM1974.94 1589.30H1978.25V1683.40H1974.94ZM1980.41 1589.30H1989.78V1683.40H1980.41ZM1991.94 1589.30H1995.54V1683.40H1991.94Z" fill="#000"/>
<rect x="1509.40" y="1655.30" width="7.60" height="28.10" fill="#DE2D26" fill-opacity="0.9"/>
<rect x="1517.00" y="1655.30" width="11.50" height="28.10" fill="#FB6A4A" fill-opacity="0.9"/>
<rect x="1528.50" y="1655.30" width="22.60" height="28.10" fill="#FCAE91" fill-opacity="0.9"/>
<rect x="1551.10" y="1655.30" width="35.00" height="28.10" fill="#FEE5D9" fill-opacity="0.9"/>
<rect x="1586.10" y="1655.30" width="30.30" height="28.10" fill="#EFF3FF" fill-opacity="0.9"/>
<rect x="1616.40" y="1655.30" width="73.00" height="28.10" fill="#BDD7E7" fill-opacity="0.9"/>
<rect x="1689.40" y="1655.30" width="83.60" height="28.10" fill="#6BAED6" fill-opacity="0.9"/>
<rect x="1773.00" y="1655.30" width="211.70" height="28.10" fill="#3182BD" fill-opacity="0.9"/>
<rect x="1984.70" y="1655.30" width="10.10" height="28.10" fill="#08519C" fill-opacity="0.9"/>
<polyline points="1509.62,1374.25 1516.60,1379.14 1517.30,1368.67 1518.70,1365.18 1530.57,1371.46 1557.11,1387.52 1572.48,1395.21 1593.43,1407.78 1596.22,1407.08 1618.57,1423.14 1640.00,1434.73 1689.77,1460.65 1743.69,1494.87 1789.32,1522.87 1837.01,1548.79 1857.75,1557.08 1884.71,1570.56 1905.45,1574.71 1915.82,1572.64 1928.26,1576.79 1944.85,1575.75 1951.07,1569.53 1963.52,1568.49 1965.59,1552.94 1971.81,1555.01 1980.11,1541.53 1982.18,1516.64 1986.33,1479.32 1991.51,1466.87 1992.55,1429.54 1995.04,1373.55" fill="none" stroke="#00ff00" stroke-width="2.2" stroke-linejoin="round"/>
<line x1="1509.30" y1="1354.00" x2="1509.30" y2="1816.80" stroke="#262626" stroke-width="1.5" />
<line x1="1508.60" y1="1816.10" x2="1994.50" y2="1816.10" stroke="#262626" stroke-width="1.5" />
<line x1="1503.00" y1="1374.30" x2="1509.30" y2="1374.30" stroke="#262626" stroke-width="1.4" />
<line x1="1503.00" y1="1434.30" x2="1509.30" y2="1434.30" stroke="#262626" stroke-width="1.4" />
<line x1="1503.00" y1="1494.70" x2="1509.30" y2="1494.70" stroke="#262626" stroke-width="1.4" />
<line x1="1503.00" y1="1553.70" x2="1509.30" y2="1553.70" stroke="#262626" stroke-width="1.4" />
<line x1="1503.00" y1="1684.80" x2="1509.30" y2="1684.80" stroke="#262626" stroke-width="1.4" />
<line x1="1503.00" y1="1719.90" x2="1509.30" y2="1719.90" stroke="#262626" stroke-width="1.4" />
<line x1="1503.00" y1="1754.70" x2="1509.30" y2="1754.70" stroke="#262626" stroke-width="1.4" />
<line x1="1503.00" y1="1789.80" x2="1509.30" y2="1789.80" stroke="#262626" stroke-width="1.4" />
<line x1="1637.80" y1="1816.10" x2="1637.80" y2="1820.60" stroke="#262626" stroke-width="1.4" />
<line x1="1766.80" y1="1816.10" x2="1766.80" y2="1820.60" stroke="#262626" stroke-width="1.4" />
<line x1="1895.80" y1="1816.10" x2="1895.80" y2="1820.60" stroke="#262626" stroke-width="1.4" />
<line x1="1573.30" y1="1957.30" x2="1573.30" y2="2192.40" stroke="#ebebeb" stroke-width="1.1" />
<line x1="1573.30" y1="2287.00" x2="1573.30" y2="2419.40" stroke="#ebebeb" stroke-width="1.1" />
<line x1="1637.80" y1="1957.30" x2="1637.80" y2="2192.40" stroke="#ebebeb" stroke-width="1.1" />
<line x1="1637.80" y1="2287.00" x2="1637.80" y2="2419.40" stroke="#ebebeb" stroke-width="1.1" />
<line x1="1702.30" y1="1957.30" x2="1702.30" y2="2192.40" stroke="#ebebeb" stroke-width="1.1" />
<line x1="1702.30" y1="2287.00" x2="1702.30" y2="2419.40" stroke="#ebebeb" stroke-width="1.1" />
<line x1="1766.80" y1="1957.30" x2="1766.80" y2="2192.40" stroke="#ebebeb" stroke-width="1.1" />
<line x1="1766.80" y1="2287.00" x2="1766.80" y2="2419.40" stroke="#ebebeb" stroke-width="1.1" />
<line x1="1831.30" y1="1957.30" x2="1831.30" y2="2192.40" stroke="#ebebeb" stroke-width="1.1" />
<line x1="1831.30" y1="2287.00" x2="1831.30" y2="2419.40" stroke="#ebebeb" stroke-width="1.1" />
<line x1="1895.80" y1="1957.30" x2="1895.80" y2="2192.40" stroke="#ebebeb" stroke-width="1.1" />
<line x1="1895.80" y1="2287.00" x2="1895.80" y2="2419.40" stroke="#ebebeb" stroke-width="1.1" />
<line x1="1960.30" y1="1957.30" x2="1960.30" y2="2192.40" stroke="#ebebeb" stroke-width="1.1" />
<line x1="1960.30" y1="2287.00" x2="1960.30" y2="2419.40" stroke="#ebebeb" stroke-width="1.1" />
<polygon points="1509.40,2358.00 1509.40,2335.43 1510.50,2337.94 1511.20,2342.35 1514.70,2346.77 1519.90,2349.27 1528.50,2351.38 1538.90,2352.78 1556.10,2354.49 1595.90,2355.89 1674.50,2356.60 1674.50,2358.00" fill="#bebebe"/>
<polygon points="1792.30,2358.30 1792.30,2359.30 1879.70,2359.40 1879.70,2360.01 1929.70,2360.51 1929.70,2361.61 1955.50,2362.31 1955.50,2363.22 1971.60,2364.52 1971.60,2365.62 1984.50,2367.53 1984.50,2368.83 1991.00,2372.54 1991.00,2375.35 1994.20,2380.57 1994.20,2385.08 1995.00,2398.62 1995.00,2412.56 1995.50,2412.56 1995.50,2358.30" fill="#bebebe"/>
<path d="M1509.19 2192.40H1510.39V2287.00H1509.19ZM1513.25 2192.40H1519.44V2287.00H1513.25ZM1522.15 2192.40H1523.35V2287.00H1522.15ZM1527.19 2192.40H1528.39V2287.00H1527.19ZM1532.81 2192.40H1534.01V2287.00H1532.81ZM1540.15 2192.40H1541.35V2287.00H1540.15ZM1548.36 2192.40H1549.56V2287.00H1548.36ZM1551.24 2192.40H1552.44V2287.00H1551.24ZM1554.12 2192.40H1555.32V2287.00H1554.12ZM1563.36 2192.40H1566.96V2287.00H1563.36ZM1579.76 2192.40H1580.96V2287.00H1579.76ZM1590.41 2192.40H1591.61V2287.00H1590.41ZM1594.23 2192.40H1595.43V2287.00H1594.23ZM1604.96 2192.40H1606.16V2287.00H1604.96ZM1615.83 2192.40H1617.03V2287.00H1615.83ZM1624.98 2192.40H1626.18V2287.00H1624.98ZM1630.45 2192.40H1631.65V2287.00H1630.45ZM1634.65 2192.40H1636.09V2287.00H1634.65ZM1645.14 2192.40H1646.34V2287.00H1645.14ZM1650.61 2192.40H1651.81V2287.00H1650.61ZM1656.37 2192.40H1657.57V2287.00H1656.37ZM1659.25 2192.40H1660.45V2287.00H1659.25ZM1668.18 2192.40H1669.38V2287.00H1668.18ZM1675.38 2192.40H1676.58V2287.00H1675.38ZM1684.02 2192.40H1685.22V2287.00H1684.02ZM1707.06 2192.40H1708.26V2287.00H1707.06ZM1718.29 2192.40H1719.49V2287.00H1718.29ZM1721.46 2192.40H1722.66V2287.00H1721.46ZM1728.66 2192.40H1729.86V2287.00H1728.66ZM1735.86 2192.40H1737.06V2287.00H1735.86ZM1741.34 2192.40H1742.54V2287.00H1741.34ZM1744.50 2192.40H1745.70V2287.00H1744.50ZM1764.09 2192.40H1765.29V2287.00H1764.09ZM1767.40 2192.40H1768.60V2287.00H1767.40ZM1773.16 2192.40H1774.36V2287.00H1773.16ZM1777.48 2192.40H1778.68V2287.00H1777.48ZM1783.24 2192.40H1784.44V2287.00H1783.24ZM1787.56 2192.40H1788.76V2287.00H1787.56ZM1793.32 2192.40H1794.52V2287.00H1793.32ZM1801.96 2192.40H1803.16V2287.00H1801.96ZM1809.16 2192.40H1810.36V2287.00H1809.16ZM1816.36 2192.40H1817.56V2287.00H1816.36ZM1825.00 2192.40H1826.20V2287.00H1825.00ZM1828.49 2192.40H1829.93V2287.00H1828.49ZM1835.09 2192.40H1836.29V2287.00H1835.09ZM1841.45 2192.40H1842.89V2287.00H1841.45ZM1846.61 2192.40H1847.81V2287.00H1846.61ZM1852.37 2192.40H1853.57V2287.00H1852.37ZM1856.69 2192.40H1857.89V2287.00H1856.69ZM1861.01 2192.40H1862.21V2287.00H1861.01ZM1864.49 2192.40H1867.37V2287.00H1864.49ZM1872.10 2192.40H1873.30V2287.00H1872.10ZM1874.98 2192.40H1876.18V2287.00H1874.98ZM1878.29 2192.40H1879.49V2287.00H1878.29ZM1881.17 2192.40H1882.37V2287.00H1881.17ZM1888.37 2192.40H1889.57V2287.00H1888.37ZM1894.13 2192.40H1895.33V2287.00H1894.13ZM1897.61 2192.40H1899.05V2287.00H1897.61ZM1901.33 2192.40H1902.53V2287.00H1901.33ZM1913.45 2192.40H1914.89V2287.00H1913.45ZM1918.18 2192.40H1919.38V2287.00H1918.18ZM1922.93 2192.40H1924.13V2287.00H1922.93ZM1925.81 2192.40H1927.01V2287.00H1925.81ZM1935.05 2192.40H1936.49V2287.00H1935.05ZM1943.09 2192.40H1944.29V2287.00H1943.09ZM1950.29 2192.40H1951.49V2287.00H1950.29ZM1961.81 2192.40H1963.01V2287.00H1961.81ZM1982.14 2192.40H1990.21V2287.00H1982.14ZM1994.10 2192.40H1995.54V2287.00H1994.10Z" fill="#000"/>
<rect x="1509.40" y="2258.60" width="69.50" height="28.40" fill="#FB6A4A" fill-opacity="0.9"/>
<rect x="1578.90" y="2258.60" width="57.20" height="28.40" fill="#FCAE91" fill-opacity="0.9"/>
<rect x="1636.10" y="2258.60" width="64.80" height="28.40" fill="#FEE5D9" fill-opacity="0.9"/>
<rect x="1700.90" y="2258.60" width="83.40" height="28.40" fill="#EFF3FF" fill-opacity="0.9"/>
<rect x="1784.30" y="2258.60" width="102.50" height="28.40" fill="#BDD7E7" fill-opacity="0.9"/>
<rect x="1886.80" y="2258.60" width="66.30" height="28.40" fill="#6BAED6" fill-opacity="0.9"/>
<rect x="1953.10" y="2258.60" width="41.00" height="28.40" fill="#3182BD" fill-opacity="0.9"/>
<rect x="1994.10" y="2258.60" width="0.90" height="28.40" fill="#08519C" fill-opacity="0.9"/>
<polyline points="1509.90,1999.18 1512.41,1994.99 1513.81,1983.81 1517.30,1974.03 1523.59,1967.75 1527.78,1968.45 1541.75,1972.64 1548.73,1976.83 1555.72,1977.52 1564.10,1981.72 1566.89,1978.92 1580.86,1985.21 1594.83,1991.49 1614.38,2001.27 1635.34,2008.95 1640.00,2010.14 1660.74,2021.55 1702.21,2045.40 1743.69,2068.21 1785.17,2093.09 1826.64,2114.87 1868.12,2132.50 1909.60,2151.16 1951.07,2165.68 1981.14,2181.23 1990.48,2167.75 1992.55,2170.86 1992.97,2121.09 1995.04,2121.09 1995.04,2003.92" fill="none" stroke="#00ff00" stroke-width="2.2" stroke-linejoin="round"/>
<line x1="1509.30" y1="1957.30" x2="1509.30" y2="2420.10" stroke="#262626" stroke-width="1.5" />
<line x1="1508.60" y1="2419.40" x2="1994.50" y2="2419.40" stroke="#262626" stroke-width="1.5" />
<line x1="1503.00" y1="2004.80" x2="1509.30" y2="2004.80" stroke="#262626" stroke-width="1.4" />
<line x1="1503.00" y1="2059.20" x2="1509.30" y2="2059.20" stroke="#262626" stroke-width="1.4" />
<line x1="1503.00" y1="2115.10" x2="1509.30" y2="2115.10" stroke="#262626" stroke-width="1.4" />
<line x1="1503.00" y1="2171.70" x2="1509.30" y2="2171.70" stroke="#262626" stroke-width="1.4" />
<line x1="1503.00" y1="2289.00" x2="1509.30" y2="2289.00" stroke="#262626" stroke-width="1.4" />
<line x1="1503.00" y1="2323.50" x2="1509.30" y2="2323.50" stroke="#262626" stroke-width="1.4" />
<line x1="1503.00" y1="2358.00" x2="1509.30" y2="2358.00" stroke="#262626" stroke-width="1.4" />
<line x1="1503.00" y1="2393.10" x2="1509.30" y2="2393.10" stroke="#262626" stroke-width="1.4" />
<line x1="1637.80" y1="2419.40" x2="1637.80" y2="2423.90" stroke="#262626" stroke-width="1.4" />
<line x1="1766.80" y1="2419.40" x2="1766.80" y2="2423.90" stroke="#262626" stroke-width="1.4" />
<line x1="1895.80" y1="2419.40" x2="1895.80" y2="2423.90" stroke="#262626" stroke-width="1.4" />
<text transform="translate(153.10,109.00) scale(1.0349,1)" font-size="26.57" font-style="normal" font-weight="normal" fill="#000" stroke="#000" stroke-width="0.55" stroke-linejoin="round">MYC targets</text>
<text transform="translate(107.10,367.49) rotate(-90) scale(0.8890,1)" font-size="23.72" font-style="normal" font-weight="normal" fill="#000" stroke="#000" stroke-width="0.55" stroke-linejoin="round">Running Enrichment Score</text>
<text transform="translate(106.80,606.53) rotate(-90) scale(0.8998,1)" font-size="24.00" font-style="normal" font-weight="normal" fill="#000" stroke="#000" stroke-width="0.55" stroke-linejoin="round">Ranked list metric</text>
<text transform="translate(272.93,637.50) scale(1.0933,1)" font-size="20.28" font-style="normal" font-weight="normal" fill="#000" stroke="#000" stroke-width="0.55" stroke-linejoin="round">Rank in Ordered Dataset</text>
<text transform="translate(171.96,494.70) scale(0.8718,1)" font-size="39.86" font-style="italic" font-weight="normal" fill="#000">BVE</text>
<text transform="translate(552.68,494.80) scale(0.9443,1)" font-size="40.14" font-style="italic" font-weight="normal" fill="#000">WT</text>
<text transform="translate(116.47,138.10) scale(1.0300,1)" font-size="18.71" font-style="normal" font-weight="normal" fill="#4d4d4d" stroke="#4d4d4d" stroke-width="0.35" stroke-linejoin="round">0.6</text>
<text transform="translate(116.19,210.00) scale(1.0300,1)" font-size="18.71" font-style="normal" font-weight="normal" fill="#4d4d4d" stroke="#4d4d4d" stroke-width="0.35" stroke-linejoin="round">0.4</text>
<text transform="translate(116.57,281.40) scale(1.0300,1)" font-size="18.71" font-style="normal" font-weight="normal" fill="#4d4d4d" stroke="#4d4d4d" stroke-width="0.35" stroke-linejoin="round">0.2</text>
<text transform="translate(116.38,353.30) scale(1.0300,1)" font-size="18.71" font-style="normal" font-weight="normal" fill="#4d4d4d" stroke="#4d4d4d" stroke-width="0.35" stroke-linejoin="round">0.0</text>
<text transform="translate(121.17,474.10) scale(1.0300,1)" font-size="18.71" font-style="normal" font-weight="normal" fill="#4d4d4d" stroke="#4d4d4d" stroke-width="0.35" stroke-linejoin="round">20</text>
<text transform="translate(121.17,500.20) scale(1.0300,1)" font-size="18.71" font-style="normal" font-weight="normal" fill="#4d4d4d" stroke="#4d4d4d" stroke-width="0.35" stroke-linejoin="round">10</text>
<text transform="translate(131.87,525.50) scale(1.0300,1)" font-size="18.71" font-style="normal" font-weight="normal" fill="#4d4d4d" stroke="#4d4d4d" stroke-width="0.35" stroke-linejoin="round">0</text>
<text transform="translate(114.72,553.20) scale(1.0300,1)" font-size="18.71" font-style="normal" font-weight="normal" fill="#4d4d4d" stroke="#4d4d4d" stroke-width="0.35" stroke-linejoin="round">-10</text>
<text transform="translate(114.72,578.50) scale(1.0300,1)" font-size="18.71" font-style="normal" font-weight="normal" fill="#4d4d4d" stroke="#4d4d4d" stroke-width="0.35" stroke-linejoin="round">-20</text>
<text transform="translate(259.57,610.05) scale(0.9800,1)" font-size="18.14" font-style="normal" font-weight="normal" fill="#4d4d4d" stroke="#4d4d4d" stroke-width="0.35" stroke-linejoin="round">5000</text>
<text transform="translate(379.57,610.05) scale(0.9800,1)" font-size="18.14" font-style="normal" font-weight="normal" fill="#4d4d4d" stroke="#4d4d4d" stroke-width="0.35" stroke-linejoin="round">10000</text>
<text transform="translate(504.82,610.05) scale(0.9800,1)" font-size="18.14" font-style="normal" font-weight="normal" fill="#4d4d4d" stroke="#4d4d4d" stroke-width="0.35" stroke-linejoin="round">15000</text>
<text transform="translate(473.54,131.70) scale(1.0066,1)" font-size="34.29" font-style="normal" font-weight="normal" fill="#000">NES = 2.5</text>
<text transform="translate(413.58,173.20) scale(1.0197,1)" font-size="33.10" font-style="normal" font-weight="normal" fill="#000">adjP=</text>
<text transform="translate(513.61,173.20) scale(1.0197,1)" font-size="33.10" font-style="normal" font-weight="normal" fill="#000">3.6E-10</text>
<text transform="translate(754.10,108.90) scale(1.1063,1)" font-size="24.86" font-style="normal" font-weight="normal" fill="#000" stroke="#000" stroke-width="0.55" stroke-linejoin="round">MYC targets</text>
<text transform="translate(708.70,368.69) rotate(-90) scale(0.8709,1)" font-size="24.28" font-style="normal" font-weight="normal" fill="#000" stroke="#000" stroke-width="0.55" stroke-linejoin="round">Running Enrichment Score</text>
<text transform="translate(708.60,606.53) rotate(-90) scale(0.9431,1)" font-size="22.90" font-style="normal" font-weight="normal" fill="#000" stroke="#000" stroke-width="0.55" stroke-linejoin="round">Ranked list metric</text>
<text transform="translate(873.63,637.00) scale(1.0907,1)" font-size="20.28" font-style="normal" font-weight="normal" fill="#000" stroke="#000" stroke-width="0.55" stroke-linejoin="round">Rank in Ordered Dataset</text>
<text transform="translate(776.65,496.20) scale(0.9019,1)" font-size="38.70" font-style="italic" font-weight="normal" fill="#000">BVE</text>
<text transform="translate(1156.87,496.70) scale(0.9614,1)" font-size="39.57" font-style="italic" font-weight="normal" fill="#000">WT</text>
<text transform="translate(717.69,203.80) scale(1.0300,1)" font-size="18.71" font-style="normal" font-weight="normal" fill="#4d4d4d" stroke="#4d4d4d" stroke-width="0.35" stroke-linejoin="round">0.4</text>
<text transform="translate(718.07,278.70) scale(1.0300,1)" font-size="18.71" font-style="normal" font-weight="normal" fill="#4d4d4d" stroke="#4d4d4d" stroke-width="0.35" stroke-linejoin="round">0.2</text>
<text transform="translate(717.88,353.40) scale(1.0300,1)" font-size="18.71" font-style="normal" font-weight="normal" fill="#4d4d4d" stroke="#4d4d4d" stroke-width="0.35" stroke-linejoin="round">0.0</text>
<text transform="translate(722.97,496.90) scale(1.0300,1)" font-size="18.71" font-style="normal" font-weight="normal" fill="#4d4d4d" stroke="#4d4d4d" stroke-width="0.35" stroke-linejoin="round">10</text>
<text transform="translate(733.67,531.40) scale(1.0300,1)" font-size="18.71" font-style="normal" font-weight="normal" fill="#4d4d4d" stroke="#4d4d4d" stroke-width="0.35" stroke-linejoin="round">0</text>
<text transform="translate(716.52,565.50) scale(1.0300,1)" font-size="18.71" font-style="normal" font-weight="normal" fill="#4d4d4d" stroke="#4d4d4d" stroke-width="0.35" stroke-linejoin="round">-10</text>
<text transform="translate(902.62,610.55) scale(0.9800,1)" font-size="18.14" font-style="normal" font-weight="normal" fill="#4d4d4d" stroke="#4d4d4d" stroke-width="0.35" stroke-linejoin="round">5000</text>
<text transform="translate(1063.47,610.55) scale(0.9800,1)" font-size="18.14" font-style="normal" font-weight="normal" fill="#4d4d4d" stroke="#4d4d4d" stroke-width="0.35" stroke-linejoin="round">10000</text>
<text transform="translate(1087.75,145.70) scale(1.0069,1)" font-size="34.14" font-style="normal" font-weight="normal" fill="#000">NES = 2.5</text>
<text transform="translate(1027.89,187.10) scale(1.0206,1)" font-size="32.97" font-style="normal" font-weight="normal" fill="#000">adjP=</text>
<text transform="translate(1127.59,187.10) scale(1.0206,1)" font-size="32.97" font-style="normal" font-weight="normal" fill="#000">8.3E-10</text>
<text transform="translate(153.20,696.00) scale(1.0814,1)" font-size="25.43" font-style="normal" font-weight="normal" fill="#000" stroke="#000" stroke-width="0.55" stroke-linejoin="round">E2F targets</text>
<text transform="translate(107.20,954.69) rotate(-90) scale(0.8798,1)" font-size="24.00" font-style="normal" font-weight="normal" fill="#000" stroke="#000" stroke-width="0.55" stroke-linejoin="round">Running Enrichment Score</text>
<text transform="translate(107.10,1191.53) rotate(-90) scale(0.9264,1)" font-size="23.31" font-style="normal" font-weight="normal" fill="#000" stroke="#000" stroke-width="0.55" stroke-linejoin="round">Ranked list metric</text>
<text transform="translate(273.33,1224.30) scale(1.0995,1)" font-size="20.14" font-style="normal" font-weight="normal" fill="#000" stroke="#000" stroke-width="0.55" stroke-linejoin="round">Rank in Ordered Dataset</text>
<text transform="translate(172.06,1085.00) scale(0.8656,1)" font-size="40.14" font-style="italic" font-weight="normal" fill="#000">BVE</text>
<text transform="translate(551.63,1085.30) scale(0.9471,1)" font-size="40.58" font-style="italic" font-weight="normal" fill="#000">WT</text>
<text transform="translate(115.99,791.00) scale(1.0300,1)" font-size="18.71" font-style="normal" font-weight="normal" fill="#4d4d4d" stroke="#4d4d4d" stroke-width="0.35" stroke-linejoin="round">0.4</text>
<text transform="translate(116.37,865.70) scale(1.0300,1)" font-size="18.71" font-style="normal" font-weight="normal" fill="#4d4d4d" stroke="#4d4d4d" stroke-width="0.35" stroke-linejoin="round">0.2</text>
<text transform="translate(116.18,941.50) scale(1.0300,1)" font-size="18.71" font-style="normal" font-weight="normal" fill="#4d4d4d" stroke="#4d4d4d" stroke-width="0.35" stroke-linejoin="round">0.0</text>
<text transform="translate(121.37,1060.90) scale(1.0300,1)" font-size="18.71" font-style="normal" font-weight="normal" fill="#4d4d4d" stroke="#4d4d4d" stroke-width="0.35" stroke-linejoin="round">20</text>
<text transform="translate(121.37,1087.00) scale(1.0300,1)" font-size="18.71" font-style="normal" font-weight="normal" fill="#4d4d4d" stroke="#4d4d4d" stroke-width="0.35" stroke-linejoin="round">10</text>
<text transform="translate(132.07,1112.70) scale(1.0300,1)" font-size="18.71" font-style="normal" font-weight="normal" fill="#4d4d4d" stroke="#4d4d4d" stroke-width="0.35" stroke-linejoin="round">0</text>
<text transform="translate(114.92,1140.10) scale(1.0300,1)" font-size="18.71" font-style="normal" font-weight="normal" fill="#4d4d4d" stroke="#4d4d4d" stroke-width="0.35" stroke-linejoin="round">-10</text>
<text transform="translate(114.92,1166.00) scale(1.0300,1)" font-size="18.71" font-style="normal" font-weight="normal" fill="#4d4d4d" stroke="#4d4d4d" stroke-width="0.35" stroke-linejoin="round">-20</text>
<text transform="translate(259.57,1197.65) scale(0.9800,1)" font-size="18.14" font-style="normal" font-weight="normal" fill="#4d4d4d" stroke="#4d4d4d" stroke-width="0.35" stroke-linejoin="round">5000</text>
<text transform="translate(379.57,1197.65) scale(0.9800,1)" font-size="18.14" font-style="normal" font-weight="normal" fill="#4d4d4d" stroke="#4d4d4d" stroke-width="0.35" stroke-linejoin="round">10000</text>
<text transform="translate(504.82,1197.65) scale(0.9800,1)" font-size="18.14" font-style="normal" font-weight="normal" fill="#4d4d4d" stroke="#4d4d4d" stroke-width="0.35" stroke-linejoin="round">15000</text>
<text transform="translate(473.96,744.80) scale(1.0005,1)" font-size="34.29" font-style="normal" font-weight="normal" fill="#000">NES = 2.4</text>
<text transform="translate(413.99,786.00) scale(1.0385,1)" font-size="32.41" font-style="normal" font-weight="normal" fill="#000">adjP=</text>
<text transform="translate(513.73,786.00) scale(1.0385,1)" font-size="32.41" font-style="normal" font-weight="normal" fill="#000">3.6E-10</text>
<text transform="translate(754.32,696.00) scale(1.0728,1)" font-size="25.43" font-style="normal" font-weight="normal" fill="#000" stroke="#000" stroke-width="0.55" stroke-linejoin="round">E2F targets</text>
<text transform="translate(708.60,955.19) rotate(-90) scale(0.9186,1)" font-size="23.03" font-style="normal" font-weight="normal" fill="#000" stroke="#000" stroke-width="0.55" stroke-linejoin="round">Running Enrichment Score</text>
<text transform="translate(708.50,1192.13) rotate(-90) scale(0.9050,1)" font-size="23.86" font-style="normal" font-weight="normal" fill="#000" stroke="#000" stroke-width="0.55" stroke-linejoin="round">Ranked list metric</text>
<text transform="translate(873.63,1224.40) scale(1.0907,1)" font-size="20.28" font-style="normal" font-weight="normal" fill="#000" stroke="#000" stroke-width="0.55" stroke-linejoin="round">Rank in Ordered Dataset</text>
<text transform="translate(776.56,1086.20) scale(0.8630,1)" font-size="40.14" font-style="italic" font-weight="normal" fill="#000">BVE</text>
<text transform="translate(1156.87,1086.50) scale(0.9341,1)" font-size="40.72" font-style="italic" font-weight="normal" fill="#000">WT</text>
<text transform="translate(718.09,759.60) scale(1.0300,1)" font-size="18.71" font-style="normal" font-weight="normal" fill="#4d4d4d" stroke="#4d4d4d" stroke-width="0.35" stroke-linejoin="round">0.4</text>
<text transform="translate(718.37,803.60) scale(1.0300,1)" font-size="18.71" font-style="normal" font-weight="normal" fill="#4d4d4d" stroke="#4d4d4d" stroke-width="0.35" stroke-linejoin="round">0.3</text>
<text transform="translate(718.47,849.70) scale(1.0300,1)" font-size="18.71" font-style="normal" font-weight="normal" fill="#4d4d4d" stroke="#4d4d4d" stroke-width="0.35" stroke-linejoin="round">0.2</text>
<text transform="translate(718.47,893.70) scale(1.0300,1)" font-size="18.71" font-style="normal" font-weight="normal" fill="#4d4d4d" stroke="#4d4d4d" stroke-width="0.35" stroke-linejoin="round">0.1</text>
<text transform="translate(718.28,939.80) scale(1.0300,1)" font-size="18.71" font-style="normal" font-weight="normal" fill="#4d4d4d" stroke="#4d4d4d" stroke-width="0.35" stroke-linejoin="round">0.0</text>
<text transform="translate(722.67,1083.90) scale(1.0300,1)" font-size="18.71" font-style="normal" font-weight="normal" fill="#4d4d4d" stroke="#4d4d4d" stroke-width="0.35" stroke-linejoin="round">10</text>
<text transform="translate(733.37,1118.10) scale(1.0300,1)" font-size="18.71" font-style="normal" font-weight="normal" fill="#4d4d4d" stroke="#4d4d4d" stroke-width="0.35" stroke-linejoin="round">0</text>
<text transform="translate(716.22,1152.50) scale(1.0300,1)" font-size="18.71" font-style="normal" font-weight="normal" fill="#4d4d4d" stroke="#4d4d4d" stroke-width="0.35" stroke-linejoin="round">-10</text>
<text transform="translate(902.62,1197.75) scale(0.9800,1)" font-size="18.14" font-style="normal" font-weight="normal" fill="#4d4d4d" stroke="#4d4d4d" stroke-width="0.35" stroke-linejoin="round">5000</text>
<text transform="translate(1063.47,1197.75) scale(0.9800,1)" font-size="18.14" font-style="normal" font-weight="normal" fill="#4d4d4d" stroke="#4d4d4d" stroke-width="0.35" stroke-linejoin="round">10000</text>
<text transform="translate(1095.62,744.60) scale(1.0678,1)" font-size="32.57" font-style="normal" font-weight="normal" fill="#000">NES = 2</text>
<text transform="translate(1026.38,785.40) scale(1.0558,1)" font-size="32.00" font-style="normal" font-weight="normal" fill="#000">adjP=</text>
<text transform="translate(1126.49,785.40) scale(1.0558,1)" font-size="32.00" font-style="normal" font-weight="normal" fill="#000">1.1E-7</text>
<text transform="translate(154.04,1284.90) scale(1.0916,1)" font-size="24.97" font-style="normal" font-weight="normal" fill="#000" stroke="#000" stroke-width="0.55" stroke-linejoin="round">G2M checkpoint</text>
<text transform="translate(107.20,1543.69) rotate(-90) scale(0.8813,1)" font-size="24.00" font-style="normal" font-weight="normal" fill="#000" stroke="#000" stroke-width="0.55" stroke-linejoin="round">Running Enrichment Score</text>
<text transform="translate(107.10,1781.53) rotate(-90) scale(0.9264,1)" font-size="23.31" font-style="normal" font-weight="normal" fill="#000" stroke="#000" stroke-width="0.55" stroke-linejoin="round">Ranked list metric</text>
<text transform="translate(273.33,1814.40) scale(1.0920,1)" font-size="20.28" font-style="normal" font-weight="normal" fill="#000" stroke="#000" stroke-width="0.55" stroke-linejoin="round">Rank in Ordered Dataset</text>
<text transform="translate(172.06,1672.70) scale(0.8946,1)" font-size="38.84" font-style="italic" font-weight="normal" fill="#000">BVE</text>
<text transform="translate(551.63,1673.00) scale(0.9785,1)" font-size="39.28" font-style="italic" font-weight="normal" fill="#000">WT</text>
<text transform="translate(115.99,1373.30) scale(1.0300,1)" font-size="18.71" font-style="normal" font-weight="normal" fill="#4d4d4d" stroke="#4d4d4d" stroke-width="0.35" stroke-linejoin="round">0.4</text>
<text transform="translate(116.37,1450.80) scale(1.0300,1)" font-size="18.71" font-style="normal" font-weight="normal" fill="#4d4d4d" stroke="#4d4d4d" stroke-width="0.35" stroke-linejoin="round">0.2</text>
<text transform="translate(116.18,1529.70) scale(1.0300,1)" font-size="18.71" font-style="normal" font-weight="normal" fill="#4d4d4d" stroke="#4d4d4d" stroke-width="0.35" stroke-linejoin="round">0.0</text>
<text transform="translate(121.37,1650.60) scale(1.0300,1)" font-size="18.71" font-style="normal" font-weight="normal" fill="#4d4d4d" stroke="#4d4d4d" stroke-width="0.35" stroke-linejoin="round">20</text>
<text transform="translate(121.37,1676.80) scale(1.0300,1)" font-size="18.71" font-style="normal" font-weight="normal" fill="#4d4d4d" stroke="#4d4d4d" stroke-width="0.35" stroke-linejoin="round">10</text>
<text transform="translate(132.07,1702.40) scale(1.0300,1)" font-size="18.71" font-style="normal" font-weight="normal" fill="#4d4d4d" stroke="#4d4d4d" stroke-width="0.35" stroke-linejoin="round">0</text>
<text transform="translate(114.92,1730.10) scale(1.0300,1)" font-size="18.71" font-style="normal" font-weight="normal" fill="#4d4d4d" stroke="#4d4d4d" stroke-width="0.35" stroke-linejoin="round">-10</text>
<text transform="translate(114.92,1756.00) scale(1.0300,1)" font-size="18.71" font-style="normal" font-weight="normal" fill="#4d4d4d" stroke="#4d4d4d" stroke-width="0.35" stroke-linejoin="round">-20</text>
<text transform="translate(259.57,1787.75) scale(0.9800,1)" font-size="18.14" font-style="normal" font-weight="normal" fill="#4d4d4d" stroke="#4d4d4d" stroke-width="0.35" stroke-linejoin="round">5000</text>
<text transform="translate(379.57,1787.75) scale(0.9800,1)" font-size="18.14" font-style="normal" font-weight="normal" fill="#4d4d4d" stroke="#4d4d4d" stroke-width="0.35" stroke-linejoin="round">10000</text>
<text transform="translate(504.82,1787.75) scale(0.9800,1)" font-size="18.14" font-style="normal" font-weight="normal" fill="#4d4d4d" stroke="#4d4d4d" stroke-width="0.35" stroke-linejoin="round">15000</text>
<text transform="translate(477.43,1320.20) scale(1.0262,1)" font-size="33.71" font-style="normal" font-weight="normal" fill="#000">NES = 2.3</text>
<text transform="translate(417.98,1361.10) scale(1.0861,1)" font-size="31.03" font-style="normal" font-weight="normal" fill="#000">adjP=</text>
<text transform="translate(517.87,1361.10) scale(1.0861,1)" font-size="31.03" font-style="normal" font-weight="normal" fill="#000">3.6E-10</text>
<text transform="translate(755.14,1284.90) scale(1.1813,1)" font-size="23.03" font-style="normal" font-weight="normal" fill="#000" stroke="#000" stroke-width="0.55" stroke-linejoin="round">G2M checkpoint</text>
<text transform="translate(708.60,1543.69) rotate(-90) scale(0.9182,1)" font-size="23.03" font-style="normal" font-weight="normal" fill="#000" stroke="#000" stroke-width="0.55" stroke-linejoin="round">Running Enrichment Score</text>
<text transform="translate(708.50,1781.93) rotate(-90) scale(0.9050,1)" font-size="23.86" font-style="normal" font-weight="normal" fill="#000" stroke="#000" stroke-width="0.55" stroke-linejoin="round">Ranked list metric</text>
<text transform="translate(873.63,1814.20) scale(1.0907,1)" font-size="20.28" font-style="normal" font-weight="normal" fill="#000" stroke="#000" stroke-width="0.55" stroke-linejoin="round">Rank in Ordered Dataset</text>
<text transform="translate(776.56,1676.00) scale(0.8630,1)" font-size="40.14" font-style="italic" font-weight="normal" fill="#000">BVE</text>
<text transform="translate(1156.87,1676.30) scale(0.9341,1)" font-size="40.72" font-style="italic" font-weight="normal" fill="#000">WT</text>
<text transform="translate(718.09,1341.20) scale(1.0300,1)" font-size="18.71" font-style="normal" font-weight="normal" fill="#4d4d4d" stroke="#4d4d4d" stroke-width="0.35" stroke-linejoin="round">0.4</text>
<text transform="translate(718.37,1387.30) scale(1.0300,1)" font-size="18.71" font-style="normal" font-weight="normal" fill="#4d4d4d" stroke="#4d4d4d" stroke-width="0.35" stroke-linejoin="round">0.3</text>
<text transform="translate(718.47,1434.80) scale(1.0300,1)" font-size="18.71" font-style="normal" font-weight="normal" fill="#4d4d4d" stroke="#4d4d4d" stroke-width="0.35" stroke-linejoin="round">0.2</text>
<text transform="translate(718.47,1480.90) scale(1.0300,1)" font-size="18.71" font-style="normal" font-weight="normal" fill="#4d4d4d" stroke="#4d4d4d" stroke-width="0.35" stroke-linejoin="round">0.1</text>
<text transform="translate(718.28,1528.40) scale(1.0300,1)" font-size="18.71" font-style="normal" font-weight="normal" fill="#4d4d4d" stroke="#4d4d4d" stroke-width="0.35" stroke-linejoin="round">0.0</text>
<text transform="translate(722.67,1673.70) scale(1.0300,1)" font-size="18.71" font-style="normal" font-weight="normal" fill="#4d4d4d" stroke="#4d4d4d" stroke-width="0.35" stroke-linejoin="round">10</text>
<text transform="translate(733.37,1707.90) scale(1.0300,1)" font-size="18.71" font-style="normal" font-weight="normal" fill="#4d4d4d" stroke="#4d4d4d" stroke-width="0.35" stroke-linejoin="round">0</text>
<text transform="translate(716.22,1742.30) scale(1.0300,1)" font-size="18.71" font-style="normal" font-weight="normal" fill="#4d4d4d" stroke="#4d4d4d" stroke-width="0.35" stroke-linejoin="round">-10</text>
<text transform="translate(902.62,1787.55) scale(0.9800,1)" font-size="18.14" font-style="normal" font-weight="normal" fill="#4d4d4d" stroke="#4d4d4d" stroke-width="0.35" stroke-linejoin="round">5000</text>
<text transform="translate(1063.47,1787.55) scale(0.9800,1)" font-size="18.14" font-style="normal" font-weight="normal" fill="#4d4d4d" stroke="#4d4d4d" stroke-width="0.35" stroke-linejoin="round">10000</text>
<text transform="translate(1095.62,1321.50) scale(1.0494,1)" font-size="33.14" font-style="normal" font-weight="normal" fill="#000">NES = 2</text>
<text transform="translate(1026.38,1362.60) scale(1.0743,1)" font-size="31.45" font-style="normal" font-weight="normal" fill="#000">adjP=</text>
<text transform="translate(1126.49,1362.60) scale(1.0743,1)" font-size="31.45" font-style="normal" font-weight="normal" fill="#000">2.2E-7</text>
<text transform="translate(154.04,1941.90) scale(1.1263,1)" font-size="24.14" font-style="normal" font-weight="normal" fill="#000" stroke="#000" stroke-width="0.55" stroke-linejoin="round">Canonical Wnt pathway</text>
<text transform="translate(107.20,2200.19) rotate(-90) scale(0.9164,1)" font-size="23.03" font-style="normal" font-weight="normal" fill="#000" stroke="#000" stroke-width="0.55" stroke-linejoin="round">Running Enrichment Score</text>
<text transform="translate(107.10,2441.70) rotate(-90) scale(0.9105,1)" font-size="23.31" font-style="normal" font-weight="normal" fill="#000" stroke="#000" stroke-width="0.55" stroke-linejoin="round">Ranked List Metric</text>
<text transform="translate(273.33,2470.30) scale(1.0920,1)" font-size="20.28" font-style="normal" font-weight="normal" fill="#000" stroke="#000" stroke-width="0.55" stroke-linejoin="round">Rank in Ordered Dataset</text>
<text transform="translate(172.06,2326.50) scale(0.8782,1)" font-size="39.57" font-style="italic" font-weight="normal" fill="#000">BVE</text>
<text transform="translate(551.63,2326.80) scale(0.9608,1)" font-size="40.00" font-style="italic" font-weight="normal" fill="#000">WT</text>
<text transform="translate(116.27,1998.60) scale(1.0300,1)" font-size="18.71" font-style="normal" font-weight="normal" fill="#4d4d4d" stroke="#4d4d4d" stroke-width="0.35" stroke-linejoin="round">0.6</text>
<text transform="translate(115.99,2061.80) scale(1.0300,1)" font-size="18.71" font-style="normal" font-weight="normal" fill="#4d4d4d" stroke="#4d4d4d" stroke-width="0.35" stroke-linejoin="round">0.4</text>
<text transform="translate(116.37,2126.00) scale(1.0300,1)" font-size="18.71" font-style="normal" font-weight="normal" fill="#4d4d4d" stroke="#4d4d4d" stroke-width="0.35" stroke-linejoin="round">0.2</text>
<text transform="translate(116.18,2189.60) scale(1.0300,1)" font-size="18.71" font-style="normal" font-weight="normal" fill="#4d4d4d" stroke="#4d4d4d" stroke-width="0.35" stroke-linejoin="round">0.0</text>
<text transform="translate(121.37,2307.30) scale(1.0300,1)" font-size="18.71" font-style="normal" font-weight="normal" fill="#4d4d4d" stroke="#4d4d4d" stroke-width="0.35" stroke-linejoin="round">20</text>
<text transform="translate(121.37,2333.20) scale(1.0300,1)" font-size="18.71" font-style="normal" font-weight="normal" fill="#4d4d4d" stroke="#4d4d4d" stroke-width="0.35" stroke-linejoin="round">10</text>
<text transform="translate(132.07,2358.80) scale(1.0300,1)" font-size="18.71" font-style="normal" font-weight="normal" fill="#4d4d4d" stroke="#4d4d4d" stroke-width="0.35" stroke-linejoin="round">0</text>
<text transform="translate(114.92,2386.40) scale(1.0300,1)" font-size="18.71" font-style="normal" font-weight="normal" fill="#4d4d4d" stroke="#4d4d4d" stroke-width="0.35" stroke-linejoin="round">-10</text>
<text transform="translate(114.92,2411.80) scale(1.0300,1)" font-size="18.71" font-style="normal" font-weight="normal" fill="#4d4d4d" stroke="#4d4d4d" stroke-width="0.35" stroke-linejoin="round">-20</text>
<text transform="translate(259.57,2443.55) scale(0.9800,1)" font-size="18.14" font-style="normal" font-weight="normal" fill="#4d4d4d" stroke="#4d4d4d" stroke-width="0.35" stroke-linejoin="round">5000</text>
<text transform="translate(379.57,2443.55) scale(0.9800,1)" font-size="18.14" font-style="normal" font-weight="normal" fill="#4d4d4d" stroke="#4d4d4d" stroke-width="0.35" stroke-linejoin="round">10000</text>
<text transform="translate(504.82,2443.55) scale(0.9800,1)" font-size="18.14" font-style="normal" font-weight="normal" fill="#4d4d4d" stroke="#4d4d4d" stroke-width="0.35" stroke-linejoin="round">15000</text>
<text transform="translate(473.45,1994.60) scale(1.0073,1)" font-size="34.14" font-style="normal" font-weight="normal" fill="#000">NES = 2.4</text>
<text transform="translate(413.99,2036.10) scale(1.0206,1)" font-size="32.97" font-style="normal" font-weight="normal" fill="#000">adjP=</text>
<text transform="translate(513.69,2036.10) scale(1.0206,1)" font-size="32.97" font-style="normal" font-weight="normal" fill="#000">2.75E-8</text>
<text transform="translate(755.14,1941.90) scale(1.1251,1)" font-size="24.14" font-style="normal" font-weight="normal" fill="#000" stroke="#000" stroke-width="0.55" stroke-linejoin="round">Canonical Wnt pathway</text>
<text transform="translate(708.60,2200.19) rotate(-90) scale(0.9164,1)" font-size="23.03" font-style="normal" font-weight="normal" fill="#000" stroke="#000" stroke-width="0.55" stroke-linejoin="round">Running Enrichment Score</text>
<text transform="translate(708.50,2442.20) rotate(-90) scale(0.8894,1)" font-size="23.86" font-style="normal" font-weight="normal" fill="#000" stroke="#000" stroke-width="0.55" stroke-linejoin="round">Ranked List Metric</text>
<text transform="translate(873.63,2470.60) scale(1.0688,1)" font-size="20.69" font-style="normal" font-weight="normal" fill="#000" stroke="#000" stroke-width="0.55" stroke-linejoin="round">Rank in Ordered Dataset</text>
<text transform="translate(776.77,2326.00) scale(0.9010,1)" font-size="38.12" font-style="italic" font-weight="normal" fill="#000">BVE</text>
<text transform="translate(1156.79,2326.60) scale(0.9690,1)" font-size="38.99" font-style="italic" font-weight="normal" fill="#000">WT</text>
<text transform="translate(718.09,2035.50) scale(1.0300,1)" font-size="18.71" font-style="normal" font-weight="normal" fill="#4d4d4d" stroke="#4d4d4d" stroke-width="0.35" stroke-linejoin="round">0.4</text>
<text transform="translate(718.47,2113.40) scale(1.0300,1)" font-size="18.71" font-style="normal" font-weight="normal" fill="#4d4d4d" stroke="#4d4d4d" stroke-width="0.35" stroke-linejoin="round">0.2</text>
<text transform="translate(718.28,2189.60) scale(1.0300,1)" font-size="18.71" font-style="normal" font-weight="normal" fill="#4d4d4d" stroke="#4d4d4d" stroke-width="0.35" stroke-linejoin="round">0.0</text>
<text transform="translate(722.67,2330.30) scale(1.0300,1)" font-size="18.71" font-style="normal" font-weight="normal" fill="#4d4d4d" stroke="#4d4d4d" stroke-width="0.35" stroke-linejoin="round">10</text>
<text transform="translate(733.37,2364.80) scale(1.0300,1)" font-size="18.71" font-style="normal" font-weight="normal" fill="#4d4d4d" stroke="#4d4d4d" stroke-width="0.35" stroke-linejoin="round">0</text>
<text transform="translate(716.22,2399.40) scale(1.0300,1)" font-size="18.71" font-style="normal" font-weight="normal" fill="#4d4d4d" stroke="#4d4d4d" stroke-width="0.35" stroke-linejoin="round">-10</text>
<text transform="translate(902.62,2443.95) scale(0.9800,1)" font-size="18.14" font-style="normal" font-weight="normal" fill="#4d4d4d" stroke="#4d4d4d" stroke-width="0.35" stroke-linejoin="round">5000</text>
<text transform="translate(1063.47,2443.95) scale(0.9800,1)" font-size="18.14" font-style="normal" font-weight="normal" fill="#4d4d4d" stroke="#4d4d4d" stroke-width="0.35" stroke-linejoin="round">10000</text>
<text transform="translate(1095.62,1994.60) scale(1.0186,1)" font-size="34.14" font-style="normal" font-weight="normal" fill="#000">NES = 2</text>
<text transform="translate(1026.38,2036.10) scale(1.0213,1)" font-size="32.97" font-style="normal" font-weight="normal" fill="#000">adjP=</text>
<text transform="translate(1126.16,2036.10) scale(1.0213,1)" font-size="32.97" font-style="normal" font-weight="normal" fill="#000">1.6E-4</text>
<text transform="translate(1503.33,109.30) scale(1.0780,1)" font-size="24.00" font-style="normal" font-weight="normal" fill="#000" stroke="#000" stroke-width="0.55" stroke-linejoin="round">Popovici BRAF V600E signature</text>
<text transform="translate(1459.30,367.99) rotate(-90) scale(0.9580,1)" font-size="22.07" font-style="normal" font-weight="normal" fill="#000" stroke="#000" stroke-width="0.55" stroke-linejoin="round">Running Enrichment Score</text>
<text transform="translate(1459.70,608.51) rotate(-90) scale(0.9733,1)" font-size="21.93" font-style="normal" font-weight="normal" fill="#000" stroke="#000" stroke-width="0.55" stroke-linejoin="round">Ranked List Metric</text>
<text transform="translate(1617.51,637.00) scale(1.0816,1)" font-size="19.59" font-style="normal" font-weight="normal" fill="#000" stroke="#000" stroke-width="0.55" stroke-linejoin="round">Rank in Ordered Dataset</text>
<text transform="translate(1527.47,498.80) scale(0.8881,1)" font-size="38.84" font-style="italic" font-weight="normal" fill="#000">BVE</text>
<text transform="translate(1907.27,499.10) scale(0.9374,1)" font-size="40.58" font-style="italic" font-weight="normal" fill="#000">WT</text>
<text transform="translate(1467.39,169.80) scale(1.0300,1)" font-size="18.71" font-style="normal" font-weight="normal" fill="#4d4d4d" stroke="#4d4d4d" stroke-width="0.35" stroke-linejoin="round">0.4</text>
<text transform="translate(1467.77,236.90) scale(1.0300,1)" font-size="18.71" font-style="normal" font-weight="normal" fill="#4d4d4d" stroke="#4d4d4d" stroke-width="0.35" stroke-linejoin="round">0.2</text>
<text transform="translate(1467.58,304.60) scale(1.0300,1)" font-size="18.71" font-style="normal" font-weight="normal" fill="#4d4d4d" stroke="#4d4d4d" stroke-width="0.35" stroke-linejoin="round">0.0</text>
<text transform="translate(1472.47,497.30) scale(1.0300,1)" font-size="18.71" font-style="normal" font-weight="normal" fill="#4d4d4d" stroke="#4d4d4d" stroke-width="0.35" stroke-linejoin="round">10</text>
<text transform="translate(1483.17,531.90) scale(1.0300,1)" font-size="18.71" font-style="normal" font-weight="normal" fill="#4d4d4d" stroke="#4d4d4d" stroke-width="0.35" stroke-linejoin="round">0</text>
<text transform="translate(1466.02,566.10) scale(1.0300,1)" font-size="18.71" font-style="normal" font-weight="normal" fill="#4d4d4d" stroke="#4d4d4d" stroke-width="0.35" stroke-linejoin="round">-10</text>
<text transform="translate(1644.22,610.55) scale(0.9800,1)" font-size="18.14" font-style="normal" font-weight="normal" fill="#4d4d4d" stroke="#4d4d4d" stroke-width="0.35" stroke-linejoin="round">5000</text>
<text transform="translate(1797.37,610.55) scale(0.9800,1)" font-size="18.14" font-style="normal" font-weight="normal" fill="#4d4d4d" stroke="#4d4d4d" stroke-width="0.35" stroke-linejoin="round">10000</text>
<text transform="translate(1816.03,145.20) scale(1.0613,1)" font-size="32.57" font-style="normal" font-weight="normal" fill="#000">NES = 1.7</text>
<text transform="translate(1790.89,187.10) scale(1.0237,1)" font-size="32.83" font-style="normal" font-weight="normal" fill="#000">adjP=</text>
<text transform="translate(1890.47,187.10) scale(1.0237,1)" font-size="32.83" font-style="normal" font-weight="normal" fill="#000">0.007</text>
<text transform="translate(1507.22,753.50) scale(1.0567,1)" font-size="24.64" font-style="normal" font-weight="normal" fill="#000" stroke="#000" stroke-width="0.55" stroke-linejoin="round">Myc targets</text>
<text transform="translate(1459.30,1012.89) rotate(-90) scale(0.9580,1)" font-size="22.07" font-style="normal" font-weight="normal" fill="#000" stroke="#000" stroke-width="0.55" stroke-linejoin="round">Running Enrichment Score</text>
<text transform="translate(1459.70,1249.83) rotate(-90) scale(0.9375,1)" font-size="23.03" font-style="normal" font-weight="normal" fill="#000" stroke="#000" stroke-width="0.55" stroke-linejoin="round">Ranked list metric</text>
<text transform="translate(1634.31,1282.20) scale(1.0760,1)" font-size="19.59" font-style="normal" font-weight="normal" fill="#000" stroke="#000" stroke-width="0.55" stroke-linejoin="round">Rank in Ordered Dataset</text>
<text transform="translate(1534.57,1146.70) scale(1.0042,1)" font-size="37.66" font-style="italic" font-weight="normal" fill="#000">MEKi</text>
<text transform="translate(1869.82,1146.80) scale(1.0039,1)" font-size="39.45" font-style="italic" font-weight="normal" fill="#000">vehicle</text>
<text transform="translate(1471.48,794.50) scale(1.0300,1)" font-size="18.71" font-style="normal" font-weight="normal" fill="#4d4d4d" stroke="#4d4d4d" stroke-width="0.35" stroke-linejoin="round">0.0</text>
<text transform="translate(1465.31,853.10) scale(1.0300,1)" font-size="18.71" font-style="normal" font-weight="normal" fill="#4d4d4d" stroke="#4d4d4d" stroke-width="0.35" stroke-linejoin="round">-0.2</text>
<text transform="translate(1464.92,912.20) scale(1.0300,1)" font-size="18.71" font-style="normal" font-weight="normal" fill="#4d4d4d" stroke="#4d4d4d" stroke-width="0.35" stroke-linejoin="round">-0.4</text>
<text transform="translate(1465.21,971.10) scale(1.0300,1)" font-size="18.71" font-style="normal" font-weight="normal" fill="#4d4d4d" stroke="#4d4d4d" stroke-width="0.35" stroke-linejoin="round">-0.6</text>
<text transform="translate(1470.78,1108.80) scale(1.0300,1)" font-size="18.71" font-style="normal" font-weight="normal" fill="#4d4d4d" stroke="#4d4d4d" stroke-width="0.35" stroke-linejoin="round">5.0</text>
<text transform="translate(1470.78,1143.40) scale(1.0300,1)" font-size="18.71" font-style="normal" font-weight="normal" fill="#4d4d4d" stroke="#4d4d4d" stroke-width="0.35" stroke-linejoin="round">2.5</text>
<text transform="translate(1470.78,1177.60) scale(1.0300,1)" font-size="18.71" font-style="normal" font-weight="normal" fill="#4d4d4d" stroke="#4d4d4d" stroke-width="0.35" stroke-linejoin="round">0.0</text>
<text transform="translate(1464.42,1211.80) scale(1.0300,1)" font-size="18.71" font-style="normal" font-weight="normal" fill="#4d4d4d" stroke="#4d4d4d" stroke-width="0.35" stroke-linejoin="round">-2.5</text>
<text transform="translate(1612.77,1255.30) scale(0.9800,1)" font-size="18.14" font-style="normal" font-weight="normal" fill="#4d4d4d" stroke="#4d4d4d" stroke-width="0.35" stroke-linejoin="round">10000</text>
<text transform="translate(1742.00,1255.30) scale(0.9800,1)" font-size="18.14" font-style="normal" font-weight="normal" fill="#4d4d4d" stroke="#4d4d4d" stroke-width="0.35" stroke-linejoin="round">20000</text>
<text transform="translate(1871.09,1255.30) scale(0.9800,1)" font-size="18.14" font-style="normal" font-weight="normal" fill="#4d4d4d" stroke="#4d4d4d" stroke-width="0.35" stroke-linejoin="round">30000</text>
<text transform="translate(1786.95,795.70) scale(1.0058,1)" font-size="34.14" font-style="normal" font-weight="normal" fill="#000">NES = -2.15</text>
<text transform="translate(1775.39,836.70) scale(1.0366,1)" font-size="32.41" font-style="normal" font-weight="normal" fill="#000">adjP=</text>
<text transform="translate(1874.96,836.70) scale(1.0366,1)" font-size="32.41" font-style="normal" font-weight="normal" fill="#000">1.2E-4</text>
<text transform="translate(1508.01,1338.60) scale(1.0790,1)" font-size="24.00" font-style="normal" font-weight="normal" fill="#000" stroke="#000" stroke-width="0.55" stroke-linejoin="round">Canonical Wnt</text>
<text transform="translate(1459.30,1597.29) rotate(-90) scale(0.9580,1)" font-size="22.07" font-style="normal" font-weight="normal" fill="#000" stroke="#000" stroke-width="0.55" stroke-linejoin="round">Running Enrichment Score</text>
<text transform="translate(1459.70,1834.73) rotate(-90) scale(0.9375,1)" font-size="23.03" font-style="normal" font-weight="normal" fill="#000" stroke="#000" stroke-width="0.55" stroke-linejoin="round">Ranked list metric</text>
<text transform="translate(1634.31,1867.00) scale(1.0324,1)" font-size="20.41" font-style="normal" font-weight="normal" fill="#000" stroke="#000" stroke-width="0.55" stroke-linejoin="round">Rank in Ordered Dataset</text>
<text transform="translate(1534.57,1733.00) scale(1.0192,1)" font-size="37.10" font-style="italic" font-weight="normal" fill="#000">MEKi</text>
<text transform="translate(1869.82,1733.00) scale(1.0074,1)" font-size="39.31" font-style="italic" font-weight="normal" fill="#000">vehicle</text>
<text transform="translate(1471.48,1382.40) scale(1.0300,1)" font-size="18.71" font-style="normal" font-weight="normal" fill="#4d4d4d" stroke="#4d4d4d" stroke-width="0.35" stroke-linejoin="round">0.0</text>
<text transform="translate(1465.31,1442.40) scale(1.0300,1)" font-size="18.71" font-style="normal" font-weight="normal" fill="#4d4d4d" stroke="#4d4d4d" stroke-width="0.35" stroke-linejoin="round">-0.2</text>
<text transform="translate(1464.92,1502.80) scale(1.0300,1)" font-size="18.71" font-style="normal" font-weight="normal" fill="#4d4d4d" stroke="#4d4d4d" stroke-width="0.35" stroke-linejoin="round">-0.4</text>
<text transform="translate(1465.21,1561.80) scale(1.0300,1)" font-size="18.71" font-style="normal" font-weight="normal" fill="#4d4d4d" stroke="#4d4d4d" stroke-width="0.35" stroke-linejoin="round">-0.6</text>
<text transform="translate(1470.78,1692.90) scale(1.0300,1)" font-size="18.71" font-style="normal" font-weight="normal" fill="#4d4d4d" stroke="#4d4d4d" stroke-width="0.35" stroke-linejoin="round">5.0</text>
<text transform="translate(1470.78,1728.00) scale(1.0300,1)" font-size="18.71" font-style="normal" font-weight="normal" fill="#4d4d4d" stroke="#4d4d4d" stroke-width="0.35" stroke-linejoin="round">2.5</text>
<text transform="translate(1470.78,1762.80) scale(1.0300,1)" font-size="18.71" font-style="normal" font-weight="normal" fill="#4d4d4d" stroke="#4d4d4d" stroke-width="0.35" stroke-linejoin="round">0.0</text>
<text transform="translate(1464.42,1797.90) scale(1.0300,1)" font-size="18.71" font-style="normal" font-weight="normal" fill="#4d4d4d" stroke="#4d4d4d" stroke-width="0.35" stroke-linejoin="round">-2.5</text>
<text transform="translate(1612.77,1840.50) scale(0.9800,1)" font-size="18.14" font-style="normal" font-weight="normal" fill="#4d4d4d" stroke="#4d4d4d" stroke-width="0.35" stroke-linejoin="round">10000</text>
<text transform="translate(1742.00,1840.50) scale(0.9800,1)" font-size="18.14" font-style="normal" font-weight="normal" fill="#4d4d4d" stroke="#4d4d4d" stroke-width="0.35" stroke-linejoin="round">20000</text>
<text transform="translate(1871.09,1840.50) scale(0.9800,1)" font-size="18.14" font-style="normal" font-weight="normal" fill="#4d4d4d" stroke="#4d4d4d" stroke-width="0.35" stroke-linejoin="round">30000</text>
<text transform="translate(1833.23,1368.00) scale(1.0303,1)" font-size="33.57" font-style="normal" font-weight="normal" fill="#000">NES = -2</text>
<text transform="translate(1757.09,1409.20) scale(1.0494,1)" font-size="32.00" font-style="normal" font-weight="normal" fill="#000">adjP=</text>
<text transform="translate(1856.61,1409.20) scale(1.0494,1)" font-size="32.00" font-style="normal" font-weight="normal" fill="#000">4.24E-5</text>
<text transform="translate(1507.24,1941.90) scale(1.0687,1)" font-size="24.14" font-style="normal" font-weight="normal" fill="#000" stroke="#000" stroke-width="0.55" stroke-linejoin="round">Popovici BRAF V600E signature</text>
<text transform="translate(1459.30,2200.59) rotate(-90) scale(0.9580,1)" font-size="22.07" font-style="normal" font-weight="normal" fill="#000" stroke="#000" stroke-width="0.55" stroke-linejoin="round">Running Enrichment Score</text>
<text transform="translate(1459.70,2439.73) rotate(-90) scale(0.9375,1)" font-size="23.03" font-style="normal" font-weight="normal" fill="#000" stroke="#000" stroke-width="0.55" stroke-linejoin="round">Ranked list metric</text>
<text transform="translate(1634.31,2469.50) scale(1.0914,1)" font-size="19.31" font-style="normal" font-weight="normal" fill="#000" stroke="#000" stroke-width="0.55" stroke-linejoin="round">Rank in Ordered Dataset</text>
<text transform="translate(1534.57,2329.80) scale(1.0154,1)" font-size="37.24" font-style="italic" font-weight="normal" fill="#000">MEKi</text>
<text transform="translate(1869.82,2329.80) scale(1.0039,1)" font-size="39.45" font-style="italic" font-weight="normal" fill="#000">vehicle</text>
<text transform="translate(1471.48,2012.90) scale(1.0300,1)" font-size="18.71" font-style="normal" font-weight="normal" fill="#4d4d4d" stroke="#4d4d4d" stroke-width="0.35" stroke-linejoin="round">0.0</text>
<text transform="translate(1465.31,2067.30) scale(1.0300,1)" font-size="18.71" font-style="normal" font-weight="normal" fill="#4d4d4d" stroke="#4d4d4d" stroke-width="0.35" stroke-linejoin="round">-0.2</text>
<text transform="translate(1464.92,2123.20) scale(1.0300,1)" font-size="18.71" font-style="normal" font-weight="normal" fill="#4d4d4d" stroke="#4d4d4d" stroke-width="0.35" stroke-linejoin="round">-0.4</text>
<text transform="translate(1465.21,2179.80) scale(1.0300,1)" font-size="18.71" font-style="normal" font-weight="normal" fill="#4d4d4d" stroke="#4d4d4d" stroke-width="0.35" stroke-linejoin="round">-0.6</text>
<text transform="translate(1470.78,2297.10) scale(1.0300,1)" font-size="18.71" font-style="normal" font-weight="normal" fill="#4d4d4d" stroke="#4d4d4d" stroke-width="0.35" stroke-linejoin="round">5.0</text>
<text transform="translate(1470.78,2331.60) scale(1.0300,1)" font-size="18.71" font-style="normal" font-weight="normal" fill="#4d4d4d" stroke="#4d4d4d" stroke-width="0.35" stroke-linejoin="round">2.5</text>
<text transform="translate(1470.78,2366.10) scale(1.0300,1)" font-size="18.71" font-style="normal" font-weight="normal" fill="#4d4d4d" stroke="#4d4d4d" stroke-width="0.35" stroke-linejoin="round">0.0</text>
<text transform="translate(1464.42,2401.20) scale(1.0300,1)" font-size="18.71" font-style="normal" font-weight="normal" fill="#4d4d4d" stroke="#4d4d4d" stroke-width="0.35" stroke-linejoin="round">-2.5</text>
<text transform="translate(1612.77,2443.75) scale(0.9800,1)" font-size="18.14" font-style="normal" font-weight="normal" fill="#4d4d4d" stroke="#4d4d4d" stroke-width="0.35" stroke-linejoin="round">10000</text>
<text transform="translate(1742.00,2443.75) scale(0.9800,1)" font-size="18.14" font-style="normal" font-weight="normal" fill="#4d4d4d" stroke="#4d4d4d" stroke-width="0.35" stroke-linejoin="round">20000</text>
<text transform="translate(1871.09,2443.75) scale(0.9800,1)" font-size="18.14" font-style="normal" font-weight="normal" fill="#4d4d4d" stroke="#4d4d4d" stroke-width="0.35" stroke-linejoin="round">30000</text>
<text transform="translate(1804.87,1994.60) scale(0.9979,1)" font-size="34.14" font-style="normal" font-weight="normal" fill="#000">NES = -2.1</text>
<text transform="translate(1775.38,2036.10) scale(1.0213,1)" font-size="32.97" font-style="normal" font-weight="normal" fill="#000">adjP=</text>
<text transform="translate(1875.16,2036.10) scale(1.0213,1)" font-size="32.97" font-style="normal" font-weight="normal" fill="#000">3.6E-6</text>
<text transform="translate(0.43,47.70) scale(0.9360,1)" font-size="84.26" font-style="normal" font-weight="bold" fill="#000">a</text>
<text transform="translate(-2.74,1950.20) scale(1.0208,1)" font-size="84.97" font-style="normal" font-weight="bold" fill="#000">b</text>
<text transform="translate(1377.25,48.20) scale(1.0117,1)" font-size="85.19" font-style="normal" font-weight="bold" fill="#000">c</text>
<text transform="translate(1377.25,723.40) scale(1.0188,1)" font-size="84.55" font-style="normal" font-weight="bold" fill="#000">d</text>
<text transform="translate(274.41,54.80) scale(0.9972,1)" font-size="59.45" font-style="italic" font-weight="bold" fill="#000">3 days</text>
<text transform="translate(853.72,48.70) scale(1.0117,1)" font-size="58.90" font-style="italic" font-weight="bold" fill="#000">6 months</text>
</svg>
</body></html>
